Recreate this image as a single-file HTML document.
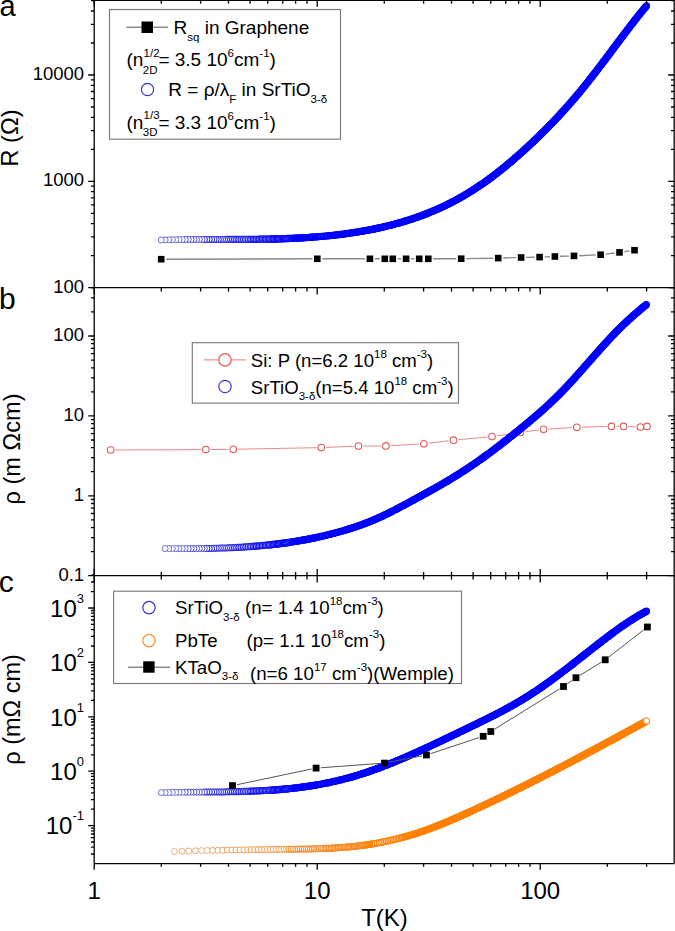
<!DOCTYPE html>
<html><head><meta charset="utf-8"><title>Resistivity vs temperature</title>
<style>html,body{margin:0;padding:0;background:#fff;overflow:hidden}svg{display:block}text{font-family:"Liberation Sans",sans-serif}</style>
</head><body>
<svg width="675" height="931" viewBox="0 0 675 931" font-family="Liberation Sans, sans-serif" fill="#000">
<g fill="none" stroke="#0000ff" stroke-width="1.2"><circle cx="646.5" cy="5.8" r="3.0"/><circle cx="646.0" cy="6.4" r="3.0"/><circle cx="645.4" cy="7.1" r="3.0"/><circle cx="644.9" cy="7.7" r="3.0"/><circle cx="644.4" cy="8.3" r="3.0"/><circle cx="643.8" cy="9.0" r="3.0"/><circle cx="643.3" cy="9.6" r="3.0"/><circle cx="642.8" cy="10.2" r="3.0"/><circle cx="642.3" cy="10.9" r="3.0"/><circle cx="641.8" cy="11.5" r="3.0"/><circle cx="641.3" cy="12.1" r="3.0"/><circle cx="640.7" cy="12.8" r="3.0"/><circle cx="640.2" cy="13.4" r="3.0"/><circle cx="639.7" cy="14.1" r="3.0"/><circle cx="639.2" cy="14.7" r="3.0"/><circle cx="638.7" cy="15.3" r="3.0"/><circle cx="638.2" cy="16.0" r="3.0"/><circle cx="637.7" cy="16.6" r="3.0"/><circle cx="637.2" cy="17.3" r="3.0"/><circle cx="636.7" cy="17.9" r="3.0"/><circle cx="636.1" cy="18.6" r="3.0"/><circle cx="635.6" cy="19.2" r="3.0"/><circle cx="635.1" cy="19.9" r="3.0"/><circle cx="634.6" cy="20.5" r="3.0"/><circle cx="634.1" cy="21.2" r="3.0"/><circle cx="633.6" cy="21.8" r="3.0"/><circle cx="633.1" cy="22.5" r="3.0"/><circle cx="632.6" cy="23.1" r="3.0"/><circle cx="632.1" cy="23.8" r="3.0"/><circle cx="631.6" cy="24.4" r="3.0"/><circle cx="631.1" cy="25.1" r="3.0"/><circle cx="630.5" cy="25.8" r="3.0"/><circle cx="630.0" cy="26.4" r="3.0"/><circle cx="629.6" cy="27.0" r="3.0"/><circle cx="629.1" cy="27.7" r="3.0"/><circle cx="628.6" cy="28.3" r="3.0"/><circle cx="628.1" cy="29.0" r="3.0"/><circle cx="627.6" cy="29.7" r="3.0"/><circle cx="627.1" cy="30.3" r="3.0"/><circle cx="626.6" cy="31.0" r="3.0"/><circle cx="626.0" cy="31.7" r="3.0"/><circle cx="625.5" cy="32.3" r="3.0"/><circle cx="625.1" cy="33.0" r="3.0"/><circle cx="624.6" cy="33.6" r="3.0"/><circle cx="624.1" cy="34.3" r="3.0"/><circle cx="623.6" cy="34.9" r="3.0"/><circle cx="623.1" cy="35.6" r="3.0"/><circle cx="622.6" cy="36.2" r="3.0"/><circle cx="622.1" cy="36.9" r="3.0"/><circle cx="621.6" cy="37.5" r="3.0"/><circle cx="621.1" cy="38.2" r="3.0"/><circle cx="620.6" cy="38.9" r="3.0"/><circle cx="620.1" cy="39.6" r="3.0"/><circle cx="619.6" cy="40.3" r="3.0"/><circle cx="619.1" cy="40.9" r="3.0"/><circle cx="618.6" cy="41.6" r="3.0"/><circle cx="618.1" cy="42.2" r="3.0"/><circle cx="617.6" cy="42.9" r="3.0"/><circle cx="617.1" cy="43.5" r="3.0"/><circle cx="616.6" cy="44.2" r="3.0"/><circle cx="616.1" cy="44.9" r="3.0"/><circle cx="615.6" cy="45.5" r="3.0"/><circle cx="615.1" cy="46.2" r="3.0"/><circle cx="614.6" cy="46.9" r="3.0"/><circle cx="614.1" cy="47.5" r="3.0"/><circle cx="613.6" cy="48.2" r="3.0"/><circle cx="613.1" cy="48.9" r="3.0"/><circle cx="612.6" cy="49.6" r="3.0"/><circle cx="612.1" cy="50.3" r="3.0"/><circle cx="611.6" cy="50.9" r="3.0"/><circle cx="611.1" cy="51.6" r="3.0"/><circle cx="610.6" cy="52.2" r="3.0"/><circle cx="610.2" cy="52.9" r="3.0"/><circle cx="609.7" cy="53.5" r="3.0"/><circle cx="609.2" cy="54.2" r="3.0"/><circle cx="608.7" cy="54.8" r="3.0"/><circle cx="608.2" cy="55.5" r="3.0"/><circle cx="607.7" cy="56.2" r="3.0"/><circle cx="607.2" cy="56.8" r="3.0"/><circle cx="606.7" cy="57.5" r="3.0"/><circle cx="606.2" cy="58.2" r="3.0"/><circle cx="605.6" cy="58.9" r="3.0"/><circle cx="605.1" cy="59.5" r="3.0"/><circle cx="604.6" cy="60.2" r="3.0"/><circle cx="604.1" cy="60.9" r="3.0"/><circle cx="603.6" cy="61.6" r="3.0"/><circle cx="603.1" cy="62.2" r="3.0"/><circle cx="602.6" cy="62.9" r="3.0"/><circle cx="602.1" cy="63.5" r="3.0"/><circle cx="601.6" cy="64.2" r="3.0"/><circle cx="601.1" cy="64.8" r="3.0"/><circle cx="600.6" cy="65.5" r="3.0"/><circle cx="600.1" cy="66.1" r="3.0"/><circle cx="599.6" cy="66.8" r="3.0"/><circle cx="599.1" cy="67.5" r="3.0"/><circle cx="598.6" cy="68.1" r="3.0"/><circle cx="598.1" cy="68.8" r="3.0"/><circle cx="597.6" cy="69.5" r="3.0"/><circle cx="597.1" cy="70.1" r="3.0"/><circle cx="596.6" cy="70.8" r="3.0"/><circle cx="596.0" cy="71.5" r="3.0"/><circle cx="595.5" cy="72.2" r="3.0"/><circle cx="595.0" cy="72.8" r="3.0"/><circle cx="594.5" cy="73.5" r="3.0"/><circle cx="593.9" cy="74.2" r="3.0"/><circle cx="593.4" cy="74.9" r="3.0"/><circle cx="592.9" cy="75.5" r="3.0"/><circle cx="592.5" cy="76.1" r="3.0"/><circle cx="592.0" cy="76.8" r="3.0"/><circle cx="591.5" cy="77.4" r="3.0"/><circle cx="590.9" cy="78.0" r="3.0"/><circle cx="590.4" cy="78.7" r="3.0"/><circle cx="589.9" cy="79.3" r="3.0"/><circle cx="589.4" cy="80.0" r="3.0"/><circle cx="588.9" cy="80.6" r="3.0"/><circle cx="588.4" cy="81.3" r="3.0"/><circle cx="587.9" cy="81.9" r="3.0"/><circle cx="587.4" cy="82.6" r="3.0"/><circle cx="586.8" cy="83.3" r="3.0"/><circle cx="586.3" cy="83.9" r="3.0"/><circle cx="585.8" cy="84.6" r="3.0"/><circle cx="585.2" cy="85.3" r="3.0"/><circle cx="584.7" cy="85.9" r="3.0"/><circle cx="584.2" cy="86.6" r="3.0"/><circle cx="583.6" cy="87.3" r="3.0"/><circle cx="583.1" cy="87.9" r="3.0"/><circle cx="582.5" cy="88.6" r="3.0"/><circle cx="582.0" cy="89.3" r="3.0"/><circle cx="581.4" cy="90.0" r="3.0"/><circle cx="580.9" cy="90.6" r="3.0"/><circle cx="580.3" cy="91.3" r="3.0"/><circle cx="579.8" cy="91.9" r="3.0"/><circle cx="579.3" cy="92.5" r="3.0"/><circle cx="578.8" cy="93.1" r="3.0"/><circle cx="578.3" cy="93.7" r="3.0"/><circle cx="577.7" cy="94.4" r="3.0"/><circle cx="577.2" cy="95.0" r="3.0"/><circle cx="576.7" cy="95.6" r="3.0"/><circle cx="576.2" cy="96.3" r="3.0"/><circle cx="575.6" cy="96.9" r="3.0"/><circle cx="575.1" cy="97.5" r="3.0"/><circle cx="574.5" cy="98.2" r="3.0"/><circle cx="574.0" cy="98.8" r="3.0"/><circle cx="573.4" cy="99.4" r="3.0"/><circle cx="572.9" cy="100.1" r="3.0"/><circle cx="572.3" cy="100.7" r="3.0"/><circle cx="571.8" cy="101.4" r="3.0"/><circle cx="571.2" cy="102.0" r="3.0"/><circle cx="570.7" cy="102.7" r="3.0"/><circle cx="570.1" cy="103.3" r="3.0"/><circle cx="569.5" cy="104.0" r="3.0"/><circle cx="568.9" cy="104.6" r="3.0"/><circle cx="568.4" cy="105.3" r="3.0"/><circle cx="567.8" cy="105.9" r="3.0"/><circle cx="567.2" cy="106.6" r="3.0"/><circle cx="566.6" cy="107.2" r="3.0"/><circle cx="566.0" cy="107.9" r="3.0"/><circle cx="565.5" cy="108.5" r="3.0"/><circle cx="565.0" cy="109.1" r="3.0"/><circle cx="564.4" cy="109.7" r="3.0"/><circle cx="563.9" cy="110.3" r="3.0"/><circle cx="563.3" cy="110.9" r="3.0"/><circle cx="562.8" cy="111.5" r="3.0"/><circle cx="562.2" cy="112.1" r="3.0"/><circle cx="561.7" cy="112.7" r="3.0"/><circle cx="561.1" cy="113.3" r="3.0"/><circle cx="560.5" cy="113.9" r="3.0"/><circle cx="560.0" cy="114.6" r="3.0"/><circle cx="559.4" cy="115.2" r="3.0"/><circle cx="558.8" cy="115.8" r="3.0"/><circle cx="558.2" cy="116.4" r="3.0"/><circle cx="557.7" cy="117.0" r="3.0"/><circle cx="557.1" cy="117.6" r="3.0"/><circle cx="556.5" cy="118.3" r="3.0"/><circle cx="555.9" cy="118.9" r="3.0"/><circle cx="555.3" cy="119.5" r="3.0"/><circle cx="554.7" cy="120.2" r="3.0"/><circle cx="554.1" cy="120.8" r="3.0"/><circle cx="553.5" cy="121.4" r="3.0"/><circle cx="552.9" cy="122.1" r="3.0"/><circle cx="552.3" cy="122.7" r="3.0"/><circle cx="551.7" cy="123.3" r="3.0"/><circle cx="551.0" cy="124.0" r="3.0"/><circle cx="550.4" cy="124.6" r="3.0"/><circle cx="549.9" cy="125.2" r="3.0"/><circle cx="549.3" cy="125.8" r="3.0"/><circle cx="548.7" cy="126.4" r="3.0"/><circle cx="548.2" cy="126.9" r="3.0"/><circle cx="547.6" cy="127.5" r="3.0"/><circle cx="547.0" cy="128.1" r="3.0"/><circle cx="546.4" cy="128.7" r="3.0"/><circle cx="545.8" cy="129.3" r="3.0"/><circle cx="545.3" cy="129.9" r="3.0"/><circle cx="544.7" cy="130.4" r="3.0"/><circle cx="544.1" cy="131.0" r="3.0"/><circle cx="543.5" cy="131.6" r="3.0"/><circle cx="542.9" cy="132.2" r="3.0"/><circle cx="542.3" cy="132.8" r="3.0"/><circle cx="541.7" cy="133.4" r="3.0"/><circle cx="541.0" cy="134.0" r="3.0"/><circle cx="540.4" cy="134.6" r="3.0"/><circle cx="539.8" cy="135.2" r="3.0"/><circle cx="539.2" cy="135.9" r="3.0"/><circle cx="538.6" cy="136.5" r="3.0"/><circle cx="537.9" cy="137.1" r="3.0"/><circle cx="537.3" cy="137.7" r="3.0"/><circle cx="536.6" cy="138.3" r="3.0"/><circle cx="536.0" cy="138.9" r="3.0"/><circle cx="535.4" cy="139.6" r="3.0"/><circle cx="534.7" cy="140.2" r="3.0"/><circle cx="534.0" cy="140.8" r="3.0"/><circle cx="533.5" cy="141.4" r="3.0"/><circle cx="532.9" cy="141.9" r="3.0"/><circle cx="532.3" cy="142.5" r="3.0"/><circle cx="531.7" cy="143.0" r="3.0"/><circle cx="531.1" cy="143.6" r="3.0"/><circle cx="530.5" cy="144.2" r="3.0"/><circle cx="529.9" cy="144.7" r="3.0"/><circle cx="529.3" cy="145.3" r="3.0"/><circle cx="528.7" cy="145.8" r="3.0"/><circle cx="528.1" cy="146.4" r="3.0"/><circle cx="527.5" cy="147.0" r="3.0"/><circle cx="526.8" cy="147.6" r="3.0"/><circle cx="526.2" cy="148.1" r="3.0"/><circle cx="525.6" cy="148.7" r="3.0"/><circle cx="525.0" cy="149.3" r="3.0"/><circle cx="524.3" cy="149.9" r="3.0"/><circle cx="523.7" cy="150.5" r="3.0"/><circle cx="523.0" cy="151.0" r="3.0"/><circle cx="522.4" cy="151.6" r="3.0"/><circle cx="521.7" cy="152.2" r="3.0"/><circle cx="521.1" cy="152.8" r="3.0"/><circle cx="520.4" cy="153.4" r="3.0"/><circle cx="519.7" cy="154.0" r="3.0"/><circle cx="519.1" cy="154.6" r="3.0"/><circle cx="518.4" cy="155.2" r="3.0"/><circle cx="517.7" cy="155.8" r="3.0"/><circle cx="517.0" cy="156.4" r="3.0"/><circle cx="516.3" cy="157.0" r="3.0"/><circle cx="515.6" cy="157.6" r="3.0"/><circle cx="514.9" cy="158.2" r="3.0"/><circle cx="514.3" cy="158.8" r="3.0"/><circle cx="513.7" cy="159.3" r="3.0"/><circle cx="513.1" cy="159.8" r="3.0"/><circle cx="512.5" cy="160.3" r="3.0"/><circle cx="511.9" cy="160.9" r="3.0"/><circle cx="511.2" cy="161.4" r="3.0"/><circle cx="510.6" cy="161.9" r="3.0"/><circle cx="510.0" cy="162.5" r="3.0"/><circle cx="509.3" cy="163.0" r="3.0"/><circle cx="508.7" cy="163.5" r="3.0"/><circle cx="508.1" cy="164.1" r="3.0"/><circle cx="507.4" cy="164.6" r="3.0"/><circle cx="506.8" cy="165.2" r="3.0"/><circle cx="506.1" cy="165.7" r="3.0"/><circle cx="505.4" cy="166.3" r="3.0"/><circle cx="504.8" cy="166.8" r="3.0"/><circle cx="504.1" cy="167.4" r="3.0"/><circle cx="503.4" cy="167.9" r="3.0"/><circle cx="502.7" cy="168.5" r="3.0"/><circle cx="502.0" cy="169.0" r="3.0"/><circle cx="501.4" cy="169.6" r="3.0"/><circle cx="500.7" cy="170.1" r="3.0"/><circle cx="500.0" cy="170.7" r="3.0"/><circle cx="499.3" cy="171.2" r="3.0"/><circle cx="498.5" cy="171.8" r="3.0"/><circle cx="497.8" cy="172.4" r="3.0"/><circle cx="497.1" cy="172.9" r="3.0"/><circle cx="496.4" cy="173.5" r="3.0"/><circle cx="495.6" cy="174.1" r="3.0"/><circle cx="494.9" cy="174.6" r="3.0"/><circle cx="494.2" cy="175.2" r="3.0"/><circle cx="493.4" cy="175.8" r="3.0"/><circle cx="492.6" cy="176.3" r="3.0"/><circle cx="491.9" cy="176.9" r="3.0"/><circle cx="491.1" cy="177.5" r="3.0"/><circle cx="490.5" cy="178.0" r="3.0"/><circle cx="489.8" cy="178.4" r="3.0"/><circle cx="489.2" cy="178.9" r="3.0"/><circle cx="488.5" cy="179.4" r="3.0"/><circle cx="487.8" cy="179.9" r="3.0"/><circle cx="487.2" cy="180.4" r="3.0"/><circle cx="486.5" cy="180.9" r="3.0"/><circle cx="485.8" cy="181.3" r="3.0"/><circle cx="485.1" cy="181.8" r="3.0"/><circle cx="484.5" cy="182.3" r="3.0"/><circle cx="483.8" cy="182.8" r="3.0"/><circle cx="483.1" cy="183.3" r="3.0"/><circle cx="482.4" cy="183.8" r="3.0"/><circle cx="481.7" cy="184.3" r="3.0"/><circle cx="481.0" cy="184.7" r="3.0"/><circle cx="480.2" cy="185.2" r="3.0"/><circle cx="479.5" cy="185.7" r="3.0"/><circle cx="478.8" cy="186.2" r="3.0"/><circle cx="478.1" cy="186.7" r="3.0"/><circle cx="477.3" cy="187.2" r="3.0"/><circle cx="476.6" cy="187.7" r="3.0"/><circle cx="475.8" cy="188.2" r="3.0"/><circle cx="475.1" cy="188.7" r="3.0"/><circle cx="474.3" cy="189.2" r="3.0"/><circle cx="473.5" cy="189.7" r="3.0"/><circle cx="472.8" cy="190.2" r="3.0"/><circle cx="472.0" cy="190.7" r="3.0"/><circle cx="471.2" cy="191.1" r="3.0"/><circle cx="470.4" cy="191.6" r="3.0"/><circle cx="469.6" cy="192.1" r="3.0"/><circle cx="468.8" cy="192.6" r="3.0"/><circle cx="468.0" cy="193.1" r="3.0"/><circle cx="467.2" cy="193.6" r="3.0"/><circle cx="466.3" cy="194.1" r="3.0"/><circle cx="465.5" cy="194.6" r="3.0"/><circle cx="464.7" cy="195.1" r="3.0"/><circle cx="463.8" cy="195.6" r="3.0"/><circle cx="463.0" cy="196.1" r="3.0"/><circle cx="462.1" cy="196.6" r="3.0"/><circle cx="461.4" cy="197.0" r="3.0"/><circle cx="460.7" cy="197.4" r="3.0"/><circle cx="460.0" cy="197.8" r="3.0"/><circle cx="459.3" cy="198.2" r="3.0"/><circle cx="458.6" cy="198.6" r="3.0"/><circle cx="457.8" cy="199.0" r="3.0"/><circle cx="457.1" cy="199.4" r="3.0"/><circle cx="456.4" cy="199.8" r="3.0"/><circle cx="455.6" cy="200.2" r="3.0"/><circle cx="454.9" cy="200.6" r="3.0"/><circle cx="454.1" cy="201.0" r="3.0"/><circle cx="453.4" cy="201.4" r="3.0"/><circle cx="452.6" cy="201.8" r="3.0"/><circle cx="451.8" cy="202.2" r="3.0"/><circle cx="451.1" cy="202.6" r="3.0"/><circle cx="450.3" cy="203.0" r="3.0"/><circle cx="449.5" cy="203.4" r="3.0"/><circle cx="448.7" cy="203.8" r="3.0"/><circle cx="447.9" cy="204.2" r="3.0"/><circle cx="447.1" cy="204.6" r="3.0"/><circle cx="446.3" cy="205.0" r="3.0"/><circle cx="445.5" cy="205.4" r="3.0"/><circle cx="444.6" cy="205.8" r="3.0"/><circle cx="443.8" cy="206.2" r="3.0"/><circle cx="443.0" cy="206.6" r="3.0"/><circle cx="442.1" cy="207.0" r="3.0"/><circle cx="441.3" cy="207.4" r="3.0"/><circle cx="440.4" cy="207.8" r="3.0"/><circle cx="439.5" cy="208.2" r="3.0"/><circle cx="438.6" cy="208.6" r="3.0"/><circle cx="437.7" cy="209.0" r="3.0"/><circle cx="436.9" cy="209.4" r="3.0"/><circle cx="435.9" cy="209.8" r="3.0"/><circle cx="435.0" cy="210.1" r="3.0"/><circle cx="434.1" cy="210.5" r="3.0"/><circle cx="433.2" cy="210.9" r="3.0"/><circle cx="432.2" cy="211.3" r="3.0"/><circle cx="431.3" cy="211.7" r="3.0"/><circle cx="430.3" cy="212.1" r="3.0"/><circle cx="429.4" cy="212.5" r="3.0"/><circle cx="428.4" cy="212.9" r="3.0"/><circle cx="427.4" cy="213.3" r="3.0"/><circle cx="426.6" cy="213.6" r="3.0"/><circle cx="425.9" cy="213.9" r="3.0"/><circle cx="425.1" cy="214.2" r="3.0"/><circle cx="424.4" cy="214.5" r="3.0"/><circle cx="423.6" cy="214.8" r="3.0"/><circle cx="422.8" cy="215.1" r="3.0"/><circle cx="422.0" cy="215.4" r="3.0"/><circle cx="421.2" cy="215.7" r="3.0"/><circle cx="420.4" cy="216.0" r="3.0"/><circle cx="419.6" cy="216.3" r="3.0"/><circle cx="418.8" cy="216.6" r="3.0"/><circle cx="418.0" cy="216.8" r="3.0"/><circle cx="417.2" cy="217.1" r="3.0"/><circle cx="416.4" cy="217.4" r="3.0"/><circle cx="415.5" cy="217.7" r="3.0"/><circle cx="414.7" cy="218.0" r="3.0"/><circle cx="413.8" cy="218.3" r="3.0"/><circle cx="413.0" cy="218.6" r="3.0"/><circle cx="412.1" cy="218.9" r="3.0"/><circle cx="411.2" cy="219.2" r="3.0"/><circle cx="410.3" cy="219.5" r="3.0"/><circle cx="409.4" cy="219.8" r="3.0"/><circle cx="408.5" cy="220.0" r="3.0"/><circle cx="407.6" cy="220.3" r="3.0"/><circle cx="406.7" cy="220.6" r="3.0"/><circle cx="405.8" cy="220.9" r="3.0"/><circle cx="404.8" cy="221.2" r="3.0"/><circle cx="403.9" cy="221.5" r="3.0"/><circle cx="403.0" cy="221.8" r="3.0"/><circle cx="402.0" cy="222.1" r="3.0"/><circle cx="401.0" cy="222.3" r="3.0"/><circle cx="400.0" cy="222.6" r="3.0"/><circle cx="399.0" cy="222.9" r="3.0"/><circle cx="398.0" cy="223.2" r="3.0"/><circle cx="397.0" cy="223.5" r="3.0"/><circle cx="396.0" cy="223.7" r="3.0"/><circle cx="395.0" cy="224.0" r="3.0"/><circle cx="393.9" cy="224.3" r="3.0"/><circle cx="392.9" cy="224.6" r="3.0"/><circle cx="391.8" cy="224.9" r="3.0"/><circle cx="390.7" cy="225.1" r="3.0"/><circle cx="389.6" cy="225.4" r="3.0"/><circle cx="388.5" cy="225.7" r="3.0"/><circle cx="387.4" cy="226.0" r="3.0"/><circle cx="386.2" cy="226.2" r="3.0"/><circle cx="385.1" cy="226.5" r="3.0"/><circle cx="383.9" cy="226.8" r="3.0"/><circle cx="383.2" cy="227.0" r="3.0"/><circle cx="382.4" cy="227.2" r="3.0"/><circle cx="381.6" cy="227.3" r="3.0"/><circle cx="380.8" cy="227.5" r="3.0"/><circle cx="380.0" cy="227.7" r="3.0"/><circle cx="379.2" cy="227.9" r="3.0"/><circle cx="378.3" cy="228.1" r="3.0"/><circle cx="377.5" cy="228.2" r="3.0"/><circle cx="376.7" cy="228.4" r="3.0"/><circle cx="375.8" cy="228.6" r="3.0"/><circle cx="375.0" cy="228.8" r="3.0"/><circle cx="374.1" cy="228.9" r="3.0"/><circle cx="373.3" cy="229.1" r="3.0"/><circle cx="372.4" cy="229.3" r="3.0"/><circle cx="371.5" cy="229.5" r="3.0"/><circle cx="370.6" cy="229.6" r="3.0"/><circle cx="369.7" cy="229.8" r="3.0"/><circle cx="368.8" cy="230.0" r="3.0"/><circle cx="367.9" cy="230.2" r="3.0"/><circle cx="367.0" cy="230.3" r="3.0"/><circle cx="366.1" cy="230.5" r="3.0"/><circle cx="365.1" cy="230.7" r="3.0"/><circle cx="364.2" cy="230.8" r="3.0"/><circle cx="363.2" cy="231.0" r="3.0"/><circle cx="362.2" cy="231.2" r="3.0"/><circle cx="361.3" cy="231.4" r="3.0"/><circle cx="360.3" cy="231.5" r="3.0"/><circle cx="359.3" cy="231.7" r="3.0"/><circle cx="358.3" cy="231.9" r="3.0"/><circle cx="357.2" cy="232.0" r="3.0"/><circle cx="356.2" cy="232.2" r="3.0"/><circle cx="355.2" cy="232.4" r="3.0"/><circle cx="354.1" cy="232.5" r="3.0"/><circle cx="353.1" cy="232.7" r="3.0"/><circle cx="352.0" cy="232.8" r="3.0"/><circle cx="350.9" cy="233.0" r="3.0"/><circle cx="349.8" cy="233.2" r="3.0"/><circle cx="348.7" cy="233.3" r="3.0"/><circle cx="347.5" cy="233.5" r="3.0"/><circle cx="346.4" cy="233.6" r="3.0"/><circle cx="345.3" cy="233.8" r="3.0"/><circle cx="344.1" cy="234.0" r="3.0"/><circle cx="342.9" cy="234.1" r="3.0"/><circle cx="341.7" cy="234.3" r="3.0"/><circle cx="340.5" cy="234.4" r="3.0"/><circle cx="339.3" cy="234.6" r="3.0"/><circle cx="338.0" cy="234.7" r="3.0"/><circle cx="336.8" cy="234.9" r="3.0"/><circle cx="335.5" cy="235.0" r="3.0"/><circle cx="334.2" cy="235.2" r="3.0"/><circle cx="332.9" cy="235.3" r="3.0"/><circle cx="331.6" cy="235.5" r="3.0"/><circle cx="330.2" cy="235.6" r="3.0"/><circle cx="328.9" cy="235.7" r="3.0"/><circle cx="327.5" cy="235.9" r="3.0"/><circle cx="326.1" cy="236.0" r="3.0"/><circle cx="324.7" cy="236.2" r="3.0"/><circle cx="323.2" cy="236.3" r="3.0"/><circle cx="321.7" cy="236.4" r="3.0"/><circle cx="320.3" cy="236.5" r="3.0"/><circle cx="318.7" cy="236.7" r="3.0"/><circle cx="317.2" cy="236.8" r="3.0"/><circle cx="315.6" cy="236.9" r="3.0"/><circle cx="314.1" cy="237.0" r="3.0"/><circle cx="313.2" cy="237.1" r="3.0"/><circle cx="312.4" cy="237.2" r="3.0"/><circle cx="311.6" cy="237.2" r="3.0"/><circle cx="310.8" cy="237.3" r="3.0"/><circle cx="310.0" cy="237.3" r="3.0"/><circle cx="309.1" cy="237.4" r="3.0"/><circle cx="308.3" cy="237.5" r="3.0"/><circle cx="307.4" cy="237.5" r="3.0"/><circle cx="306.6" cy="237.6" r="3.0"/><circle cx="305.7" cy="237.6" r="3.0"/><circle cx="304.8" cy="237.7" r="3.0"/><circle cx="303.9" cy="237.7" r="3.0"/><circle cx="303.0" cy="237.8" r="3.0"/><circle cx="302.1" cy="237.8" r="3.0"/><circle cx="301.2" cy="237.9" r="3.0"/><circle cx="300.3" cy="237.9" r="3.0"/><circle cx="299.4" cy="238.0" r="3.0"/><circle cx="298.5" cy="238.0" r="3.0"/><circle cx="297.5" cy="238.1" r="3.0"/><circle cx="296.6" cy="238.1" r="3.0"/><circle cx="295.6" cy="238.2" r="3.0"/><circle cx="294.6" cy="238.2" r="3.0"/><circle cx="293.6" cy="238.3" r="3.0"/><circle cx="292.6" cy="238.3" r="3.0"/><circle cx="291.6" cy="238.4" r="3.0"/><circle cx="290.6" cy="238.4" r="3.0"/><circle cx="289.6" cy="238.5" r="3.0"/></g><g fill="#fff" stroke="#0808fa" stroke-width="1.26"><circle cx="288.6" cy="238.5" r="3.0"/><circle cx="287.5" cy="238.5" r="3.0"/><circle cx="286.5" cy="238.6" r="3.0"/><circle cx="285.4" cy="238.6" r="3.0"/><circle cx="284.3" cy="238.7" r="3.0"/><circle cx="283.2" cy="238.7" r="3.0"/><circle cx="282.1" cy="238.7" r="3.0"/><circle cx="281.0" cy="238.8" r="3.0"/><circle cx="279.8" cy="238.8" r="3.0"/><circle cx="278.7" cy="238.8" r="3.0"/><circle cx="277.5" cy="238.9" r="3.0"/><circle cx="276.4" cy="238.9" r="3.0"/><circle cx="275.2" cy="238.9" r="3.0"/><circle cx="274.0" cy="239.0" r="3.0"/><circle cx="272.8" cy="239.0" r="3.0"/><circle cx="271.5" cy="239.0" r="3.0"/><circle cx="270.3" cy="239.1" r="3.0"/><circle cx="269.0" cy="239.1" r="3.0"/></g><g fill="#fff" stroke="#1616ef" stroke-width="1.18"><circle cx="267.7" cy="239.1" r="3.0"/><circle cx="266.4" cy="239.1" r="3.0"/><circle cx="265.1" cy="239.2" r="3.0"/><circle cx="263.8" cy="239.2" r="3.0"/><circle cx="262.4" cy="239.2" r="3.0"/><circle cx="261.0" cy="239.2" r="3.0"/><circle cx="259.7" cy="239.2" r="3.0"/><circle cx="258.2" cy="239.3" r="3.0"/><circle cx="256.8" cy="239.3" r="3.0"/><circle cx="255.3" cy="239.3" r="3.0"/><circle cx="253.9" cy="239.3" r="3.0"/><circle cx="252.4" cy="239.3" r="3.0"/><circle cx="250.8" cy="239.3" r="3.0"/><circle cx="249.3" cy="239.3" r="3.0"/><circle cx="247.7" cy="239.4" r="3.0"/></g><g fill="#fff" stroke="#2626e5" stroke-width="1.09"><circle cx="246.1" cy="239.4" r="3.0"/><circle cx="244.5" cy="239.4" r="3.0"/><circle cx="242.8" cy="239.4" r="3.0"/><circle cx="241.1" cy="239.4" r="3.0"/><circle cx="239.4" cy="239.4" r="3.0"/><circle cx="237.7" cy="239.4" r="3.0"/><circle cx="235.9" cy="239.4" r="3.0"/><circle cx="234.1" cy="239.4" r="3.0"/><circle cx="232.3" cy="239.4" r="3.0"/><circle cx="230.4" cy="239.4" r="3.0"/><circle cx="228.5" cy="239.4" r="3.0"/><circle cx="226.5" cy="239.4" r="3.0"/></g><g fill="#fff" stroke="#3434da" stroke-width="1.01"><circle cx="224.5" cy="239.4" r="3.0"/><circle cx="222.5" cy="239.4" r="3.0"/><circle cx="220.4" cy="239.4" r="3.0"/><circle cx="218.3" cy="239.4" r="3.0"/><circle cx="216.1" cy="239.4" r="3.0"/><circle cx="213.9" cy="239.4" r="3.0"/><circle cx="211.6" cy="239.4" r="3.0"/><circle cx="209.2" cy="239.4" r="3.0"/><circle cx="206.8" cy="239.4" r="3.0"/><circle cx="204.4" cy="239.4" r="3.0"/></g><g fill="#fff" stroke="#4444d0" stroke-width="0.93"><circle cx="201.9" cy="239.4" r="3.0"/><circle cx="199.3" cy="239.4" r="3.0"/><circle cx="196.6" cy="239.5" r="3.0"/><circle cx="193.9" cy="239.5" r="3.0"/><circle cx="191.1" cy="239.5" r="3.0"/><circle cx="188.2" cy="239.5" r="3.0"/><circle cx="185.2" cy="239.5" r="3.0"/></g><g fill="#fff" stroke="#5252c5" stroke-width="0.84"><circle cx="182.2" cy="239.6" r="3.0"/><circle cx="179.0" cy="239.6" r="3.0"/><circle cx="175.7" cy="239.7" r="3.0"/><circle cx="172.3" cy="239.7" r="3.0"/><circle cx="168.8" cy="239.8" r="3.0"/><circle cx="165.1" cy="239.9" r="3.0"/><circle cx="161.3" cy="240.0" r="3.0"/></g>
<path d="M166.2 259.2L312.3 258.8M322.3 258.8L364.9 258.8M374.9 258.8L379.8 258.8M397.8 258.8L401.1 258.8M411.1 258.8L414.2 258.8M433.3 258.8L456.2 258.7M466.2 258.6L493.2 258.2M503.2 258.0L516.1 257.6M526.1 257.4L534.6 257.2M544.6 256.9L549.9 256.7M559.9 256.3L569.0 256.1M579.0 255.7L595.6 254.9M605.6 254.1L614.5 253.0M624.4 251.7L629.6 250.9" fill="none" stroke="#8a8a8a" stroke-width="1.4"/>
<g fill="#000"><rect x="157.9" y="255.9" width="6.6" height="6.6"/><rect x="314.0" y="255.5" width="6.6" height="6.6"/><rect x="366.6" y="255.5" width="6.6" height="6.6"/><rect x="381.5" y="255.5" width="6.6" height="6.6"/><rect x="389.5" y="255.5" width="6.6" height="6.6"/><rect x="402.8" y="255.5" width="6.6" height="6.6"/><rect x="415.9" y="255.5" width="6.6" height="6.6"/><rect x="425.0" y="255.5" width="6.6" height="6.6"/><rect x="457.9" y="255.4" width="6.6" height="6.6"/><rect x="494.9" y="254.8" width="6.6" height="6.6"/><rect x="517.8" y="254.2" width="6.6" height="6.6"/><rect x="536.3" y="253.8" width="6.6" height="6.6"/><rect x="551.6" y="253.2" width="6.6" height="6.6"/><rect x="570.7" y="252.6" width="6.6" height="6.6"/><rect x="597.3" y="251.4" width="6.6" height="6.6"/><rect x="616.2" y="249.1" width="6.6" height="6.6"/><rect x="631.2" y="246.9" width="6.6" height="6.6"/></g>
<path d="M115.5 450.0L201.0 449.6M210.6 449.5L228.5 449.4M238.1 449.2L316.5 447.7M326.1 447.4L353.6 446.3M363.2 446.1L381.1 445.9M390.7 445.6L419.1 444.1M428.7 443.2L448.7 440.8M458.3 439.7L487.2 437.0M496.8 435.8L515.6 433.1M525.2 431.8L538.8 429.9M548.4 429.0L572.0 427.6M581.6 427.2L606.7 426.5M616.3 426.4L618.8 426.4M628.4 426.6L635.6 426.8" fill="none" stroke="#e88" stroke-width="1"/>
<g fill="#fff" stroke="#e05a5a" stroke-width="1.1"><circle cx="110.7" cy="450" r="3.3"/><circle cx="205.8" cy="449.6" r="3.3"/><circle cx="233.3" cy="449.3" r="3.3"/><circle cx="321.3" cy="447.6" r="3.3"/><circle cx="358.4" cy="446.1" r="3.3"/><circle cx="385.9" cy="445.9" r="3.3"/><circle cx="423.9" cy="443.8" r="3.3"/><circle cx="453.5" cy="440.2" r="3.3"/><circle cx="492" cy="436.5" r="3.3"/><circle cx="520.4" cy="432.4" r="3.3"/><circle cx="543.6" cy="429.3" r="3.3"/><circle cx="576.8" cy="427.3" r="3.3"/><circle cx="611.5" cy="426.4" r="3.3"/><circle cx="623.6" cy="426.4" r="3.3"/><circle cx="640.4" cy="427" r="3.3"/><circle cx="647" cy="426.4" r="3.3"/></g>
<g fill="none" stroke="#0000ff" stroke-width="1.2"><circle cx="646.4" cy="304.6" r="3.0"/><circle cx="645.7" cy="305.1" r="3.0"/><circle cx="645.1" cy="305.6" r="3.0"/><circle cx="644.5" cy="306.1" r="3.0"/><circle cx="643.8" cy="306.7" r="3.0"/><circle cx="643.2" cy="307.2" r="3.0"/><circle cx="642.6" cy="307.7" r="3.0"/><circle cx="641.9" cy="308.2" r="3.0"/><circle cx="641.3" cy="308.7" r="3.0"/><circle cx="640.7" cy="309.3" r="3.0"/><circle cx="640.1" cy="309.8" r="3.0"/><circle cx="639.4" cy="310.3" r="3.0"/><circle cx="638.8" cy="310.9" r="3.0"/><circle cx="638.2" cy="311.4" r="3.0"/><circle cx="637.6" cy="311.9" r="3.0"/><circle cx="636.9" cy="312.5" r="3.0"/><circle cx="636.3" cy="313.0" r="3.0"/><circle cx="635.7" cy="313.5" r="3.0"/><circle cx="635.1" cy="314.1" r="3.0"/><circle cx="634.5" cy="314.6" r="3.0"/><circle cx="633.9" cy="315.1" r="3.0"/><circle cx="633.2" cy="315.7" r="3.0"/><circle cx="632.6" cy="316.2" r="3.0"/><circle cx="632.0" cy="316.8" r="3.0"/><circle cx="631.4" cy="317.3" r="3.0"/><circle cx="630.8" cy="317.9" r="3.0"/><circle cx="630.2" cy="318.4" r="3.0"/><circle cx="629.6" cy="319.0" r="3.0"/><circle cx="629.0" cy="319.5" r="3.0"/><circle cx="628.4" cy="320.1" r="3.0"/><circle cx="627.8" cy="320.6" r="3.0"/><circle cx="627.2" cy="321.2" r="3.0"/><circle cx="626.6" cy="321.7" r="3.0"/><circle cx="626.0" cy="322.3" r="3.0"/><circle cx="625.4" cy="322.9" r="3.0"/><circle cx="624.8" cy="323.4" r="3.0"/><circle cx="624.2" cy="324.0" r="3.0"/><circle cx="623.6" cy="324.6" r="3.0"/><circle cx="623.0" cy="325.1" r="3.0"/><circle cx="622.4" cy="325.7" r="3.0"/><circle cx="621.8" cy="326.3" r="3.0"/><circle cx="621.2" cy="326.9" r="3.0"/><circle cx="620.6" cy="327.4" r="3.0"/><circle cx="620.1" cy="328.0" r="3.0"/><circle cx="619.5" cy="328.6" r="3.0"/><circle cx="618.9" cy="329.2" r="3.0"/><circle cx="618.3" cy="329.7" r="3.0"/><circle cx="617.7" cy="330.3" r="3.0"/><circle cx="617.1" cy="330.9" r="3.0"/><circle cx="616.6" cy="331.5" r="3.0"/><circle cx="616.0" cy="332.1" r="3.0"/><circle cx="615.4" cy="332.7" r="3.0"/><circle cx="614.9" cy="333.3" r="3.0"/><circle cx="614.3" cy="333.9" r="3.0"/><circle cx="613.7" cy="334.5" r="3.0"/><circle cx="613.1" cy="335.1" r="3.0"/><circle cx="612.5" cy="335.7" r="3.0"/><circle cx="612.0" cy="336.3" r="3.0"/><circle cx="611.4" cy="336.8" r="3.0"/><circle cx="610.9" cy="337.4" r="3.0"/><circle cx="610.3" cy="338.0" r="3.0"/><circle cx="609.7" cy="338.6" r="3.0"/><circle cx="609.2" cy="339.2" r="3.0"/><circle cx="608.6" cy="339.9" r="3.0"/><circle cx="608.0" cy="340.5" r="3.0"/><circle cx="607.4" cy="341.1" r="3.0"/><circle cx="606.9" cy="341.7" r="3.0"/><circle cx="606.4" cy="342.3" r="3.0"/><circle cx="605.8" cy="342.9" r="3.0"/><circle cx="605.3" cy="343.5" r="3.0"/><circle cx="604.7" cy="344.1" r="3.0"/><circle cx="604.1" cy="344.7" r="3.0"/><circle cx="603.6" cy="345.3" r="3.0"/><circle cx="603.0" cy="346.0" r="3.0"/><circle cx="602.4" cy="346.6" r="3.0"/><circle cx="601.9" cy="347.2" r="3.0"/><circle cx="601.3" cy="347.9" r="3.0"/><circle cx="600.8" cy="348.5" r="3.0"/><circle cx="600.2" cy="349.1" r="3.0"/><circle cx="599.7" cy="349.7" r="3.0"/><circle cx="599.1" cy="350.3" r="3.0"/><circle cx="598.6" cy="350.9" r="3.0"/><circle cx="598.0" cy="351.5" r="3.0"/><circle cx="597.5" cy="352.2" r="3.0"/><circle cx="596.9" cy="352.8" r="3.0"/><circle cx="596.3" cy="353.4" r="3.0"/><circle cx="595.8" cy="354.1" r="3.0"/><circle cx="595.2" cy="354.7" r="3.0"/><circle cx="594.6" cy="355.4" r="3.0"/><circle cx="594.1" cy="356.0" r="3.0"/><circle cx="593.6" cy="356.6" r="3.0"/><circle cx="593.0" cy="357.2" r="3.0"/><circle cx="592.5" cy="357.8" r="3.0"/><circle cx="592.0" cy="358.4" r="3.0"/><circle cx="591.4" cy="359.0" r="3.0"/><circle cx="590.9" cy="359.7" r="3.0"/><circle cx="590.3" cy="360.3" r="3.0"/><circle cx="589.7" cy="360.9" r="3.0"/><circle cx="589.2" cy="361.6" r="3.0"/><circle cx="588.6" cy="362.2" r="3.0"/><circle cx="588.1" cy="362.8" r="3.0"/><circle cx="587.5" cy="363.5" r="3.0"/><circle cx="586.9" cy="364.1" r="3.0"/><circle cx="586.3" cy="364.8" r="3.0"/><circle cx="585.8" cy="365.4" r="3.0"/><circle cx="585.3" cy="366.0" r="3.0"/><circle cx="584.7" cy="366.6" r="3.0"/><circle cx="584.2" cy="367.2" r="3.0"/><circle cx="583.7" cy="367.8" r="3.0"/><circle cx="583.1" cy="368.5" r="3.0"/><circle cx="582.6" cy="369.1" r="3.0"/><circle cx="582.0" cy="369.7" r="3.0"/><circle cx="581.5" cy="370.3" r="3.0"/><circle cx="580.9" cy="371.0" r="3.0"/><circle cx="580.3" cy="371.6" r="3.0"/><circle cx="579.8" cy="372.2" r="3.0"/><circle cx="579.2" cy="372.9" r="3.0"/><circle cx="578.6" cy="373.5" r="3.0"/><circle cx="578.1" cy="374.2" r="3.0"/><circle cx="577.5" cy="374.8" r="3.0"/><circle cx="576.9" cy="375.5" r="3.0"/><circle cx="576.3" cy="376.1" r="3.0"/><circle cx="575.8" cy="376.7" r="3.0"/><circle cx="575.2" cy="377.3" r="3.0"/><circle cx="574.7" cy="377.9" r="3.0"/><circle cx="574.2" cy="378.5" r="3.0"/><circle cx="573.6" cy="379.1" r="3.0"/><circle cx="573.1" cy="379.7" r="3.0"/><circle cx="572.5" cy="380.3" r="3.0"/><circle cx="572.0" cy="380.9" r="3.0"/><circle cx="571.4" cy="381.6" r="3.0"/><circle cx="570.8" cy="382.2" r="3.0"/><circle cx="570.3" cy="382.8" r="3.0"/><circle cx="569.7" cy="383.4" r="3.0"/><circle cx="569.1" cy="384.0" r="3.0"/><circle cx="568.5" cy="384.6" r="3.0"/><circle cx="568.0" cy="385.3" r="3.0"/><circle cx="567.4" cy="385.9" r="3.0"/><circle cx="566.8" cy="386.5" r="3.0"/><circle cx="566.2" cy="387.1" r="3.0"/><circle cx="565.6" cy="387.8" r="3.0"/><circle cx="565.0" cy="388.4" r="3.0"/><circle cx="564.4" cy="389.0" r="3.0"/><circle cx="563.8" cy="389.7" r="3.0"/><circle cx="563.2" cy="390.3" r="3.0"/><circle cx="562.6" cy="390.9" r="3.0"/><circle cx="562.0" cy="391.6" r="3.0"/><circle cx="561.4" cy="392.1" r="3.0"/><circle cx="560.8" cy="392.7" r="3.0"/><circle cx="560.3" cy="393.3" r="3.0"/><circle cx="559.7" cy="393.9" r="3.0"/><circle cx="559.1" cy="394.4" r="3.0"/><circle cx="558.6" cy="395.0" r="3.0"/><circle cx="558.0" cy="395.6" r="3.0"/><circle cx="557.4" cy="396.2" r="3.0"/><circle cx="556.8" cy="396.7" r="3.0"/><circle cx="556.2" cy="397.3" r="3.0"/><circle cx="555.6" cy="397.9" r="3.0"/><circle cx="555.0" cy="398.5" r="3.0"/><circle cx="554.4" cy="399.1" r="3.0"/><circle cx="553.8" cy="399.7" r="3.0"/><circle cx="553.2" cy="400.2" r="3.0"/><circle cx="552.6" cy="400.8" r="3.0"/><circle cx="552.0" cy="401.4" r="3.0"/><circle cx="551.4" cy="402.0" r="3.0"/><circle cx="550.8" cy="402.6" r="3.0"/><circle cx="550.1" cy="403.2" r="3.0"/><circle cx="549.5" cy="403.8" r="3.0"/><circle cx="548.9" cy="404.4" r="3.0"/><circle cx="548.2" cy="405.0" r="3.0"/><circle cx="547.6" cy="405.5" r="3.0"/><circle cx="546.9" cy="406.1" r="3.0"/><circle cx="546.3" cy="406.7" r="3.0"/><circle cx="545.6" cy="407.3" r="3.0"/><circle cx="545.0" cy="407.9" r="3.0"/><circle cx="544.3" cy="408.5" r="3.0"/><circle cx="543.7" cy="409.1" r="3.0"/><circle cx="543.1" cy="409.6" r="3.0"/><circle cx="542.5" cy="410.1" r="3.0"/><circle cx="541.9" cy="410.7" r="3.0"/><circle cx="541.3" cy="411.2" r="3.0"/><circle cx="540.7" cy="411.8" r="3.0"/><circle cx="540.0" cy="412.3" r="3.0"/><circle cx="539.4" cy="412.9" r="3.0"/><circle cx="538.8" cy="413.4" r="3.0"/><circle cx="538.2" cy="413.9" r="3.0"/><circle cx="537.5" cy="414.5" r="3.0"/><circle cx="536.9" cy="415.0" r="3.0"/><circle cx="536.2" cy="415.6" r="3.0"/><circle cx="535.6" cy="416.2" r="3.0"/><circle cx="534.9" cy="416.7" r="3.0"/><circle cx="534.3" cy="417.3" r="3.0"/><circle cx="533.6" cy="417.8" r="3.0"/><circle cx="533.0" cy="418.4" r="3.0"/><circle cx="532.3" cy="419.0" r="3.0"/><circle cx="531.6" cy="419.5" r="3.0"/><circle cx="530.9" cy="420.1" r="3.0"/><circle cx="530.3" cy="420.7" r="3.0"/><circle cx="529.6" cy="421.3" r="3.0"/><circle cx="528.9" cy="421.8" r="3.0"/><circle cx="528.2" cy="422.4" r="3.0"/><circle cx="527.6" cy="422.9" r="3.0"/><circle cx="526.9" cy="423.4" r="3.0"/><circle cx="526.3" cy="424.0" r="3.0"/><circle cx="525.7" cy="424.5" r="3.0"/><circle cx="525.1" cy="425.0" r="3.0"/><circle cx="524.4" cy="425.5" r="3.0"/><circle cx="523.8" cy="426.1" r="3.0"/><circle cx="523.1" cy="426.6" r="3.0"/><circle cx="522.5" cy="427.1" r="3.0"/><circle cx="521.8" cy="427.7" r="3.0"/><circle cx="521.2" cy="428.2" r="3.0"/><circle cx="520.5" cy="428.7" r="3.0"/><circle cx="519.8" cy="429.3" r="3.0"/><circle cx="519.2" cy="429.8" r="3.0"/><circle cx="518.5" cy="430.4" r="3.0"/><circle cx="517.8" cy="430.9" r="3.0"/><circle cx="517.1" cy="431.5" r="3.0"/><circle cx="516.4" cy="432.0" r="3.0"/><circle cx="515.7" cy="432.6" r="3.0"/><circle cx="515.0" cy="433.2" r="3.0"/><circle cx="514.3" cy="433.7" r="3.0"/><circle cx="513.6" cy="434.3" r="3.0"/><circle cx="512.9" cy="434.9" r="3.0"/><circle cx="512.2" cy="435.5" r="3.0"/><circle cx="511.5" cy="436.0" r="3.0"/><circle cx="510.8" cy="436.5" r="3.0"/><circle cx="510.2" cy="437.0" r="3.0"/><circle cx="509.6" cy="437.5" r="3.0"/><circle cx="508.9" cy="438.0" r="3.0"/><circle cx="508.3" cy="438.6" r="3.0"/><circle cx="507.6" cy="439.1" r="3.0"/><circle cx="507.0" cy="439.6" r="3.0"/><circle cx="506.3" cy="440.1" r="3.0"/><circle cx="505.7" cy="440.6" r="3.0"/><circle cx="505.0" cy="441.1" r="3.0"/><circle cx="504.3" cy="441.7" r="3.0"/><circle cx="503.6" cy="442.2" r="3.0"/><circle cx="503.0" cy="442.7" r="3.0"/><circle cx="502.3" cy="443.3" r="3.0"/><circle cx="501.6" cy="443.8" r="3.0"/><circle cx="500.9" cy="444.3" r="3.0"/><circle cx="500.2" cy="444.9" r="3.0"/><circle cx="499.5" cy="445.4" r="3.0"/><circle cx="498.8" cy="446.0" r="3.0"/><circle cx="498.1" cy="446.5" r="3.0"/><circle cx="497.3" cy="447.1" r="3.0"/><circle cx="496.6" cy="447.6" r="3.0"/><circle cx="495.9" cy="448.2" r="3.0"/><circle cx="495.1" cy="448.7" r="3.0"/><circle cx="494.4" cy="449.3" r="3.0"/><circle cx="493.7" cy="449.8" r="3.0"/><circle cx="492.9" cy="450.4" r="3.0"/><circle cx="492.1" cy="451.0" r="3.0"/><circle cx="491.4" cy="451.6" r="3.0"/><circle cx="490.7" cy="452.0" r="3.0"/><circle cx="490.1" cy="452.5" r="3.0"/><circle cx="489.4" cy="453.0" r="3.0"/><circle cx="488.8" cy="453.5" r="3.0"/><circle cx="488.1" cy="454.0" r="3.0"/><circle cx="487.4" cy="454.5" r="3.0"/><circle cx="486.8" cy="454.9" r="3.0"/><circle cx="486.1" cy="455.4" r="3.0"/><circle cx="485.4" cy="455.9" r="3.0"/><circle cx="484.7" cy="456.4" r="3.0"/><circle cx="484.0" cy="456.9" r="3.0"/><circle cx="483.4" cy="457.4" r="3.0"/><circle cx="482.7" cy="457.9" r="3.0"/><circle cx="481.9" cy="458.4" r="3.0"/><circle cx="481.2" cy="458.9" r="3.0"/><circle cx="480.5" cy="459.4" r="3.0"/><circle cx="479.8" cy="460.0" r="3.0"/><circle cx="479.1" cy="460.5" r="3.0"/><circle cx="478.3" cy="461.0" r="3.0"/><circle cx="477.6" cy="461.5" r="3.0"/><circle cx="476.9" cy="462.0" r="3.0"/><circle cx="476.1" cy="462.5" r="3.0"/><circle cx="475.4" cy="463.1" r="3.0"/><circle cx="474.6" cy="463.6" r="3.0"/><circle cx="473.8" cy="464.1" r="3.0"/><circle cx="473.1" cy="464.6" r="3.0"/><circle cx="472.3" cy="465.2" r="3.0"/><circle cx="471.5" cy="465.7" r="3.0"/><circle cx="470.7" cy="466.2" r="3.0"/><circle cx="469.9" cy="466.8" r="3.0"/><circle cx="469.1" cy="467.3" r="3.0"/><circle cx="468.3" cy="467.8" r="3.0"/><circle cx="467.5" cy="468.4" r="3.0"/><circle cx="466.7" cy="468.9" r="3.0"/><circle cx="465.8" cy="469.5" r="3.0"/><circle cx="465.2" cy="469.9" r="3.0"/><circle cx="464.5" cy="470.3" r="3.0"/><circle cx="463.8" cy="470.8" r="3.0"/><circle cx="463.1" cy="471.2" r="3.0"/><circle cx="462.4" cy="471.7" r="3.0"/><circle cx="461.7" cy="472.1" r="3.0"/><circle cx="461.0" cy="472.6" r="3.0"/><circle cx="460.3" cy="473.0" r="3.0"/><circle cx="459.6" cy="473.5" r="3.0"/><circle cx="458.9" cy="473.9" r="3.0"/><circle cx="458.2" cy="474.4" r="3.0"/><circle cx="457.5" cy="474.8" r="3.0"/><circle cx="456.7" cy="475.3" r="3.0"/><circle cx="456.0" cy="475.7" r="3.0"/><circle cx="455.3" cy="476.2" r="3.0"/><circle cx="454.5" cy="476.7" r="3.0"/><circle cx="453.8" cy="477.1" r="3.0"/><circle cx="453.0" cy="477.6" r="3.0"/><circle cx="452.2" cy="478.0" r="3.0"/><circle cx="451.5" cy="478.5" r="3.0"/><circle cx="450.7" cy="479.0" r="3.0"/><circle cx="449.9" cy="479.5" r="3.0"/><circle cx="449.1" cy="479.9" r="3.0"/><circle cx="448.3" cy="480.4" r="3.0"/><circle cx="447.5" cy="480.9" r="3.0"/><circle cx="446.7" cy="481.4" r="3.0"/><circle cx="445.9" cy="481.8" r="3.0"/><circle cx="445.1" cy="482.3" r="3.0"/><circle cx="444.2" cy="482.8" r="3.0"/><circle cx="443.4" cy="483.3" r="3.0"/><circle cx="442.5" cy="483.8" r="3.0"/><circle cx="441.7" cy="484.3" r="3.0"/><circle cx="440.8" cy="484.8" r="3.0"/><circle cx="440.0" cy="485.3" r="3.0"/><circle cx="439.1" cy="485.8" r="3.0"/><circle cx="438.2" cy="486.3" r="3.0"/><circle cx="437.3" cy="486.8" r="3.0"/><circle cx="436.4" cy="487.3" r="3.0"/><circle cx="435.5" cy="487.8" r="3.0"/><circle cx="434.6" cy="488.4" r="3.0"/><circle cx="433.6" cy="488.9" r="3.0"/><circle cx="432.9" cy="489.3" r="3.0"/><circle cx="432.2" cy="489.7" r="3.0"/><circle cx="431.5" cy="490.1" r="3.0"/><circle cx="430.8" cy="490.5" r="3.0"/><circle cx="430.1" cy="490.9" r="3.0"/><circle cx="429.4" cy="491.3" r="3.0"/><circle cx="428.6" cy="491.7" r="3.0"/><circle cx="427.9" cy="492.1" r="3.0"/><circle cx="427.1" cy="492.5" r="3.0"/><circle cx="426.4" cy="492.9" r="3.0"/><circle cx="425.6" cy="493.3" r="3.0"/><circle cx="424.9" cy="493.7" r="3.0"/><circle cx="424.1" cy="494.2" r="3.0"/><circle cx="423.3" cy="494.6" r="3.0"/><circle cx="422.6" cy="495.0" r="3.0"/><circle cx="421.8" cy="495.4" r="3.0"/><circle cx="421.0" cy="495.9" r="3.0"/><circle cx="420.2" cy="496.3" r="3.0"/><circle cx="419.4" cy="496.7" r="3.0"/><circle cx="418.6" cy="497.2" r="3.0"/><circle cx="417.7" cy="497.6" r="3.0"/><circle cx="416.9" cy="498.1" r="3.0"/><circle cx="416.1" cy="498.5" r="3.0"/><circle cx="415.2" cy="499.0" r="3.0"/><circle cx="414.4" cy="499.4" r="3.0"/><circle cx="413.5" cy="499.9" r="3.0"/><circle cx="412.7" cy="500.4" r="3.0"/><circle cx="411.8" cy="500.8" r="3.0"/><circle cx="410.9" cy="501.3" r="3.0"/><circle cx="410.0" cy="501.8" r="3.0"/><circle cx="409.1" cy="502.3" r="3.0"/><circle cx="408.2" cy="502.8" r="3.0"/><circle cx="407.3" cy="503.3" r="3.0"/><circle cx="406.4" cy="503.8" r="3.0"/><circle cx="405.5" cy="504.3" r="3.0"/><circle cx="404.5" cy="504.8" r="3.0"/><circle cx="403.6" cy="505.3" r="3.0"/><circle cx="402.6" cy="505.8" r="3.0"/><circle cx="401.7" cy="506.3" r="3.0"/><circle cx="400.7" cy="506.8" r="3.0"/><circle cx="399.7" cy="507.3" r="3.0"/><circle cx="398.7" cy="507.9" r="3.0"/><circle cx="397.7" cy="508.4" r="3.0"/><circle cx="396.7" cy="508.9" r="3.0"/><circle cx="395.7" cy="509.5" r="3.0"/><circle cx="394.6" cy="510.0" r="3.0"/><circle cx="393.6" cy="510.5" r="3.0"/><circle cx="392.5" cy="511.1" r="3.0"/><circle cx="391.8" cy="511.5" r="3.0"/><circle cx="391.1" cy="511.8" r="3.0"/><circle cx="390.3" cy="512.2" r="3.0"/><circle cx="389.6" cy="512.6" r="3.0"/><circle cx="388.9" cy="512.9" r="3.0"/><circle cx="388.1" cy="513.3" r="3.0"/><circle cx="387.4" cy="513.7" r="3.0"/><circle cx="386.6" cy="514.0" r="3.0"/><circle cx="385.9" cy="514.4" r="3.0"/><circle cx="385.1" cy="514.8" r="3.0"/><circle cx="384.3" cy="515.1" r="3.0"/><circle cx="383.6" cy="515.5" r="3.0"/><circle cx="382.8" cy="515.9" r="3.0"/><circle cx="382.0" cy="516.3" r="3.0"/><circle cx="381.2" cy="516.6" r="3.0"/><circle cx="380.4" cy="517.0" r="3.0"/><circle cx="379.6" cy="517.4" r="3.0"/><circle cx="378.7" cy="517.7" r="3.0"/><circle cx="377.9" cy="518.1" r="3.0"/><circle cx="377.1" cy="518.5" r="3.0"/><circle cx="376.3" cy="518.8" r="3.0"/><circle cx="375.4" cy="519.2" r="3.0"/><circle cx="374.6" cy="519.6" r="3.0"/><circle cx="373.7" cy="519.9" r="3.0"/><circle cx="372.8" cy="520.3" r="3.0"/><circle cx="371.9" cy="520.7" r="3.0"/><circle cx="371.1" cy="521.0" r="3.0"/><circle cx="370.2" cy="521.4" r="3.0"/><circle cx="369.3" cy="521.8" r="3.0"/><circle cx="368.4" cy="522.1" r="3.0"/><circle cx="367.4" cy="522.5" r="3.0"/><circle cx="366.5" cy="522.8" r="3.0"/><circle cx="365.6" cy="523.2" r="3.0"/><circle cx="364.6" cy="523.6" r="3.0"/><circle cx="363.7" cy="523.9" r="3.0"/><circle cx="362.7" cy="524.3" r="3.0"/><circle cx="361.7" cy="524.6" r="3.0"/><circle cx="360.8" cy="525.0" r="3.0"/><circle cx="359.8" cy="525.4" r="3.0"/><circle cx="358.8" cy="525.7" r="3.0"/><circle cx="357.8" cy="526.1" r="3.0"/><circle cx="356.7" cy="526.4" r="3.0"/><circle cx="355.7" cy="526.8" r="3.0"/><circle cx="354.6" cy="527.1" r="3.0"/><circle cx="353.6" cy="527.5" r="3.0"/><circle cx="352.5" cy="527.8" r="3.0"/><circle cx="351.4" cy="528.2" r="3.0"/><circle cx="350.3" cy="528.5" r="3.0"/><circle cx="349.2" cy="528.9" r="3.0"/><circle cx="348.1" cy="529.2" r="3.0"/><circle cx="347.0" cy="529.6" r="3.0"/><circle cx="345.8" cy="529.9" r="3.0"/><circle cx="344.7" cy="530.3" r="3.0"/><circle cx="343.5" cy="530.6" r="3.0"/><circle cx="342.3" cy="531.0" r="3.0"/><circle cx="341.1" cy="531.3" r="3.0"/><circle cx="339.9" cy="531.7" r="3.0"/><circle cx="338.7" cy="532.0" r="3.0"/><circle cx="337.4" cy="532.3" r="3.0"/><circle cx="336.1" cy="532.7" r="3.0"/><circle cx="334.9" cy="533.0" r="3.0"/><circle cx="333.6" cy="533.4" r="3.0"/><circle cx="332.2" cy="533.7" r="3.0"/><circle cx="330.9" cy="534.1" r="3.0"/><circle cx="329.5" cy="534.4" r="3.0"/><circle cx="328.2" cy="534.7" r="3.0"/><circle cx="326.8" cy="535.1" r="3.0"/><circle cx="325.4" cy="535.4" r="3.0"/><circle cx="323.9" cy="535.8" r="3.0"/><circle cx="322.5" cy="536.1" r="3.0"/><circle cx="321.0" cy="536.4" r="3.0"/><circle cx="319.5" cy="536.8" r="3.0"/><circle cx="318.0" cy="537.1" r="3.0"/><circle cx="316.4" cy="537.4" r="3.0"/><circle cx="315.6" cy="537.6" r="3.0"/><circle cx="314.8" cy="537.8" r="3.0"/><circle cx="314.1" cy="537.9" r="3.0"/><circle cx="313.2" cy="538.1" r="3.0"/><circle cx="312.4" cy="538.3" r="3.0"/><circle cx="311.6" cy="538.4" r="3.0"/><circle cx="310.8" cy="538.6" r="3.0"/><circle cx="310.0" cy="538.8" r="3.0"/><circle cx="309.1" cy="538.9" r="3.0"/><circle cx="308.3" cy="539.1" r="3.0"/><circle cx="307.4" cy="539.3" r="3.0"/><circle cx="306.6" cy="539.4" r="3.0"/><circle cx="305.7" cy="539.6" r="3.0"/><circle cx="304.8" cy="539.8" r="3.0"/><circle cx="303.9" cy="539.9" r="3.0"/><circle cx="303.0" cy="540.1" r="3.0"/><circle cx="302.1" cy="540.2" r="3.0"/><circle cx="301.2" cy="540.4" r="3.0"/><circle cx="300.3" cy="540.6" r="3.0"/><circle cx="299.4" cy="540.7" r="3.0"/><circle cx="298.5" cy="540.9" r="3.0"/><circle cx="297.5" cy="541.0" r="3.0"/><circle cx="296.6" cy="541.2" r="3.0"/><circle cx="295.6" cy="541.4" r="3.0"/><circle cx="294.6" cy="541.5" r="3.0"/><circle cx="293.6" cy="541.7" r="3.0"/><circle cx="292.6" cy="541.8" r="3.0"/><circle cx="291.6" cy="542.0" r="3.0"/><circle cx="290.6" cy="542.1" r="3.0"/><circle cx="289.6" cy="542.3" r="3.0"/></g><g fill="#fff" stroke="#0808fa" stroke-width="1.26"><circle cx="288.6" cy="542.5" r="3.0"/><circle cx="287.5" cy="542.6" r="3.0"/><circle cx="286.5" cy="542.8" r="3.0"/><circle cx="285.4" cy="542.9" r="3.0"/><circle cx="284.3" cy="543.1" r="3.0"/><circle cx="283.2" cy="543.2" r="3.0"/><circle cx="282.1" cy="543.4" r="3.0"/><circle cx="281.0" cy="543.5" r="3.0"/><circle cx="279.8" cy="543.6" r="3.0"/><circle cx="278.7" cy="543.8" r="3.0"/><circle cx="277.5" cy="543.9" r="3.0"/><circle cx="276.4" cy="544.1" r="3.0"/><circle cx="275.2" cy="544.2" r="3.0"/><circle cx="274.0" cy="544.4" r="3.0"/><circle cx="272.8" cy="544.5" r="3.0"/><circle cx="271.5" cy="544.6" r="3.0"/><circle cx="270.3" cy="544.8" r="3.0"/><circle cx="269.0" cy="544.9" r="3.0"/></g><g fill="#fff" stroke="#1616ef" stroke-width="1.18"><circle cx="267.7" cy="545.1" r="3.0"/><circle cx="266.4" cy="545.2" r="3.0"/><circle cx="265.1" cy="545.3" r="3.0"/><circle cx="263.8" cy="545.4" r="3.0"/><circle cx="262.4" cy="545.6" r="3.0"/><circle cx="261.0" cy="545.7" r="3.0"/><circle cx="259.7" cy="545.8" r="3.0"/><circle cx="258.2" cy="546.0" r="3.0"/><circle cx="256.8" cy="546.1" r="3.0"/><circle cx="255.3" cy="546.2" r="3.0"/><circle cx="253.9" cy="546.3" r="3.0"/><circle cx="252.4" cy="546.4" r="3.0"/><circle cx="250.8" cy="546.6" r="3.0"/><circle cx="249.3" cy="546.7" r="3.0"/></g><g fill="#fff" stroke="#2626e5" stroke-width="1.09"><circle cx="247.7" cy="546.8" r="3.0"/><circle cx="246.1" cy="546.9" r="3.0"/><circle cx="244.5" cy="547.0" r="3.0"/><circle cx="242.8" cy="547.1" r="3.0"/><circle cx="241.1" cy="547.2" r="3.0"/><circle cx="239.4" cy="547.3" r="3.0"/><circle cx="237.7" cy="547.4" r="3.0"/><circle cx="235.9" cy="547.5" r="3.0"/><circle cx="234.1" cy="547.6" r="3.0"/><circle cx="232.3" cy="547.7" r="3.0"/><circle cx="230.4" cy="547.7" r="3.0"/><circle cx="228.5" cy="547.8" r="3.0"/></g><g fill="#fff" stroke="#3434da" stroke-width="1.01"><circle cx="226.5" cy="547.9" r="3.0"/><circle cx="224.5" cy="548.0" r="3.0"/><circle cx="222.5" cy="548.1" r="3.0"/><circle cx="220.4" cy="548.1" r="3.0"/><circle cx="218.3" cy="548.2" r="3.0"/><circle cx="216.1" cy="548.2" r="3.0"/><circle cx="213.9" cy="548.3" r="3.0"/><circle cx="211.6" cy="548.4" r="3.0"/><circle cx="209.2" cy="548.4" r="3.0"/><circle cx="206.8" cy="548.4" r="3.0"/></g><g fill="#fff" stroke="#4444d0" stroke-width="0.93"><circle cx="204.4" cy="548.5" r="3.0"/><circle cx="201.9" cy="548.5" r="3.0"/><circle cx="199.3" cy="548.5" r="3.0"/><circle cx="196.6" cy="548.6" r="3.0"/><circle cx="193.9" cy="548.6" r="3.0"/><circle cx="191.1" cy="548.6" r="3.0"/><circle cx="188.2" cy="548.6" r="3.0"/></g><g fill="#fff" stroke="#5252c5" stroke-width="0.84"><circle cx="185.2" cy="548.6" r="3.0"/><circle cx="182.2" cy="548.6" r="3.0"/><circle cx="179.0" cy="548.6" r="3.0"/><circle cx="175.7" cy="548.6" r="3.0"/><circle cx="172.3" cy="548.6" r="3.0"/><circle cx="168.8" cy="548.5" r="3.0"/><circle cx="165.1" cy="548.5" r="3.0"/></g>
<g fill="#fff" stroke="#e39d67" stroke-width="0.83"><circle cx="174.4" cy="851.5" r="3.0"/><circle cx="182.0" cy="851.2" r="3.0"/><circle cx="188.9" cy="851.0" r="3.0"/><circle cx="195.5" cy="850.8" r="3.0"/><circle cx="201.6" cy="850.6" r="3.0"/><circle cx="207.3" cy="850.5" r="3.0"/></g><g fill="#fff" stroke="#e89854" stroke-width="0.90"><circle cx="212.7" cy="850.4" r="3.0"/><circle cx="217.9" cy="850.3" r="3.0"/><circle cx="222.7" cy="850.2" r="3.0"/><circle cx="227.4" cy="850.1" r="3.0"/><circle cx="231.8" cy="850.0" r="3.0"/><circle cx="236.0" cy="850.0" r="3.0"/><circle cx="240.1" cy="849.9" r="3.0"/><circle cx="244.0" cy="849.8" r="3.0"/><circle cx="247.7" cy="849.8" r="3.0"/></g><g fill="#fff" stroke="#ed9341" stroke-width="0.97"><circle cx="251.3" cy="849.7" r="3.0"/><circle cx="254.8" cy="849.7" r="3.0"/><circle cx="258.1" cy="849.7" r="3.0"/><circle cx="261.4" cy="849.6" r="3.0"/><circle cx="264.5" cy="849.6" r="3.0"/><circle cx="267.6" cy="849.5" r="3.0"/><circle cx="270.5" cy="849.5" r="3.0"/><circle cx="273.4" cy="849.5" r="3.0"/><circle cx="276.1" cy="849.4" r="3.0"/><circle cx="278.8" cy="849.4" r="3.0"/><circle cx="281.5" cy="849.4" r="3.0"/><circle cx="284.0" cy="849.3" r="3.0"/><circle cx="286.5" cy="849.3" r="3.0"/></g><g fill="#fff" stroke="#f28d2f" stroke-width="1.03"><circle cx="289.0" cy="849.3" r="3.0"/><circle cx="291.3" cy="849.2" r="3.0"/><circle cx="293.6" cy="849.2" r="3.0"/><circle cx="295.9" cy="849.2" r="3.0"/><circle cx="298.1" cy="849.2" r="3.0"/><circle cx="300.3" cy="849.1" r="3.0"/><circle cx="302.4" cy="849.1" r="3.0"/><circle cx="304.4" cy="849.1" r="3.0"/><circle cx="306.5" cy="849.0" r="3.0"/><circle cx="308.4" cy="849.0" r="3.0"/><circle cx="310.4" cy="848.9" r="3.0"/><circle cx="312.3" cy="848.9" r="3.0"/><circle cx="314.2" cy="848.8" r="3.0"/><circle cx="316.0" cy="848.8" r="3.0"/><circle cx="317.8" cy="848.7" r="3.0"/><circle cx="319.5" cy="848.7" r="3.0"/><circle cx="321.3" cy="848.6" r="3.0"/><circle cx="323.0" cy="848.5" r="3.0"/><circle cx="324.7" cy="848.5" r="3.0"/></g><g fill="#fff" stroke="#f7881c" stroke-width="1.10"><circle cx="326.3" cy="848.4" r="3.0"/><circle cx="327.9" cy="848.3" r="3.0"/><circle cx="329.5" cy="848.3" r="3.0"/><circle cx="331.1" cy="848.2" r="3.0"/><circle cx="332.6" cy="848.1" r="3.0"/><circle cx="334.1" cy="848.0" r="3.0"/><circle cx="335.6" cy="847.9" r="3.0"/><circle cx="337.1" cy="847.8" r="3.0"/><circle cx="338.5" cy="847.7" r="3.0"/><circle cx="340.0" cy="847.6" r="3.0"/><circle cx="341.4" cy="847.5" r="3.0"/><circle cx="342.8" cy="847.4" r="3.0"/><circle cx="344.1" cy="847.3" r="3.0"/><circle cx="345.5" cy="847.2" r="3.0"/><circle cx="346.8" cy="847.1" r="3.0"/><circle cx="348.1" cy="847.0" r="3.0"/><circle cx="349.4" cy="846.9" r="3.0"/><circle cx="350.7" cy="846.7" r="3.0"/><circle cx="351.9" cy="846.6" r="3.0"/><circle cx="353.2" cy="846.5" r="3.0"/><circle cx="354.4" cy="846.4" r="3.0"/><circle cx="355.6" cy="846.2" r="3.0"/><circle cx="356.8" cy="846.1" r="3.0"/><circle cx="358.0" cy="846.0" r="3.0"/><circle cx="359.2" cy="845.8" r="3.0"/><circle cx="360.3" cy="845.7" r="3.0"/><circle cx="361.5" cy="845.5" r="3.0"/><circle cx="362.6" cy="845.4" r="3.0"/><circle cx="363.7" cy="845.2" r="3.0"/></g><g fill="#fff" stroke="#fc8309" stroke-width="1.17"><circle cx="364.8" cy="845.1" r="3.0"/><circle cx="365.9" cy="844.9" r="3.0"/><circle cx="367.0" cy="844.8" r="3.0"/><circle cx="368.0" cy="844.6" r="3.0"/><circle cx="369.1" cy="844.5" r="3.0"/><circle cx="370.1" cy="844.3" r="3.0"/><circle cx="371.2" cy="844.1" r="3.0"/><circle cx="372.2" cy="844.0" r="3.0"/><circle cx="373.2" cy="843.8" r="3.0"/><circle cx="374.2" cy="843.6" r="3.0"/><circle cx="375.2" cy="843.5" r="3.0"/><circle cx="377.1" cy="843.1" r="3.0"/><circle cx="379.1" cy="842.8" r="3.0"/><circle cx="380.9" cy="842.4" r="3.0"/><circle cx="382.8" cy="842.1" r="3.0"/><circle cx="384.6" cy="841.7" r="3.0"/><circle cx="386.3" cy="841.3" r="3.0"/><circle cx="388.1" cy="840.9" r="3.0"/><circle cx="389.8" cy="840.6" r="3.0"/><circle cx="391.5" cy="840.2" r="3.0"/><circle cx="393.1" cy="839.8" r="3.0"/><circle cx="394.7" cy="839.4" r="3.0"/><circle cx="396.3" cy="839.0" r="3.0"/><circle cx="397.9" cy="838.6" r="3.0"/><circle cx="399.5" cy="838.2" r="3.0"/><circle cx="401.0" cy="837.8" r="3.0"/></g><g fill="none" stroke="#ff8000" stroke-width="1.2"><circle cx="402.5" cy="837.4" r="3.0"/><circle cx="403.9" cy="837.0" r="3.0"/><circle cx="405.4" cy="836.6" r="3.0"/><circle cx="406.8" cy="836.2" r="3.0"/><circle cx="408.2" cy="835.8" r="3.0"/><circle cx="409.6" cy="835.4" r="3.0"/><circle cx="411.0" cy="835.0" r="3.0"/><circle cx="412.3" cy="834.6" r="3.0"/><circle cx="413.7" cy="834.2" r="3.0"/><circle cx="415.0" cy="833.8" r="3.0"/><circle cx="416.3" cy="833.4" r="3.0"/><circle cx="417.6" cy="833.0" r="3.0"/><circle cx="418.8" cy="832.5" r="3.0"/><circle cx="420.1" cy="832.1" r="3.0"/><circle cx="421.3" cy="831.7" r="3.0"/><circle cx="422.5" cy="831.3" r="3.0"/><circle cx="423.7" cy="830.9" r="3.0"/><circle cx="424.9" cy="830.5" r="3.0"/><circle cx="426.1" cy="830.0" r="3.0"/><circle cx="427.2" cy="829.6" r="3.0"/><circle cx="428.4" cy="829.2" r="3.0"/><circle cx="429.5" cy="828.8" r="3.0"/><circle cx="430.6" cy="828.4" r="3.0"/><circle cx="431.7" cy="828.0" r="3.0"/><circle cx="432.8" cy="827.5" r="3.0"/><circle cx="433.9" cy="827.1" r="3.0"/><circle cx="435.0" cy="826.7" r="3.0"/><circle cx="436.0" cy="826.3" r="3.0"/><circle cx="437.1" cy="825.9" r="3.0"/><circle cx="438.1" cy="825.5" r="3.0"/><circle cx="439.1" cy="825.1" r="3.0"/><circle cx="440.1" cy="824.7" r="3.0"/><circle cx="441.1" cy="824.3" r="3.0"/><circle cx="442.1" cy="823.9" r="3.0"/><circle cx="443.1" cy="823.5" r="3.0"/><circle cx="444.1" cy="823.1" r="3.0"/><circle cx="445.1" cy="822.7" r="3.0"/><circle cx="446.0" cy="822.3" r="3.0"/><circle cx="446.9" cy="821.9" r="3.0"/><circle cx="447.9" cy="821.5" r="3.0"/><circle cx="448.8" cy="821.1" r="3.0"/><circle cx="449.7" cy="820.7" r="3.0"/><circle cx="450.6" cy="820.3" r="3.0"/><circle cx="451.5" cy="819.9" r="3.0"/><circle cx="452.4" cy="819.5" r="3.0"/><circle cx="453.3" cy="819.2" r="3.0"/><circle cx="454.2" cy="818.8" r="3.0"/><circle cx="455.0" cy="818.4" r="3.0"/><circle cx="455.9" cy="818.0" r="3.0"/><circle cx="456.8" cy="817.7" r="3.0"/><circle cx="457.6" cy="817.3" r="3.0"/><circle cx="458.4" cy="816.9" r="3.0"/><circle cx="459.3" cy="816.5" r="3.0"/><circle cx="460.1" cy="816.2" r="3.0"/><circle cx="460.9" cy="815.8" r="3.0"/><circle cx="461.7" cy="815.5" r="3.0"/><circle cx="462.5" cy="815.1" r="3.0"/><circle cx="463.3" cy="814.7" r="3.0"/><circle cx="464.1" cy="814.4" r="3.0"/><circle cx="464.9" cy="814.0" r="3.0"/><circle cx="465.7" cy="813.7" r="3.0"/><circle cx="466.4" cy="813.3" r="3.0"/><circle cx="467.2" cy="813.0" r="3.0"/><circle cx="468.0" cy="812.6" r="3.0"/><circle cx="468.7" cy="812.3" r="3.0"/><circle cx="469.5" cy="812.0" r="3.0"/><circle cx="470.2" cy="811.6" r="3.0"/><circle cx="470.9" cy="811.3" r="3.0"/><circle cx="471.7" cy="811.0" r="3.0"/><circle cx="472.8" cy="810.5" r="3.0"/><circle cx="473.8" cy="810.0" r="3.0"/><circle cx="474.9" cy="809.5" r="3.0"/><circle cx="475.9" cy="809.0" r="3.0"/><circle cx="477.0" cy="808.5" r="3.0"/><circle cx="478.0" cy="808.0" r="3.0"/><circle cx="479.0" cy="807.6" r="3.0"/><circle cx="480.0" cy="807.1" r="3.0"/><circle cx="481.0" cy="806.6" r="3.0"/><circle cx="482.0" cy="806.2" r="3.0"/><circle cx="483.0" cy="805.7" r="3.0"/><circle cx="483.9" cy="805.3" r="3.0"/><circle cx="484.9" cy="804.8" r="3.0"/><circle cx="485.8" cy="804.4" r="3.0"/><circle cx="486.8" cy="803.9" r="3.0"/><circle cx="487.7" cy="803.5" r="3.0"/><circle cx="488.6" cy="803.1" r="3.0"/><circle cx="489.5" cy="802.6" r="3.0"/><circle cx="490.4" cy="802.2" r="3.0"/><circle cx="491.3" cy="801.8" r="3.0"/><circle cx="492.2" cy="801.4" r="3.0"/><circle cx="493.1" cy="801.0" r="3.0"/><circle cx="494.0" cy="800.5" r="3.0"/><circle cx="494.8" cy="800.1" r="3.0"/><circle cx="495.7" cy="799.7" r="3.0"/><circle cx="496.5" cy="799.3" r="3.0"/><circle cx="497.4" cy="798.9" r="3.0"/><circle cx="498.2" cy="798.5" r="3.0"/><circle cx="499.0" cy="798.1" r="3.0"/><circle cx="499.9" cy="797.7" r="3.0"/><circle cx="500.7" cy="797.3" r="3.0"/><circle cx="501.5" cy="796.9" r="3.0"/><circle cx="502.3" cy="796.6" r="3.0"/><circle cx="503.1" cy="796.2" r="3.0"/><circle cx="503.8" cy="795.8" r="3.0"/><circle cx="504.6" cy="795.4" r="3.0"/><circle cx="505.4" cy="795.0" r="3.0"/><circle cx="506.2" cy="794.7" r="3.0"/><circle cx="506.9" cy="794.3" r="3.0"/><circle cx="507.7" cy="793.9" r="3.0"/><circle cx="508.4" cy="793.6" r="3.0"/><circle cx="509.2" cy="793.2" r="3.0"/><circle cx="509.9" cy="792.8" r="3.0"/><circle cx="510.6" cy="792.5" r="3.0"/><circle cx="511.4" cy="792.1" r="3.0"/><circle cx="512.1" cy="791.8" r="3.0"/><circle cx="513.0" cy="791.3" r="3.0"/><circle cx="514.0" cy="790.8" r="3.0"/><circle cx="514.9" cy="790.4" r="3.0"/><circle cx="515.9" cy="789.9" r="3.0"/><circle cx="516.8" cy="789.5" r="3.0"/><circle cx="517.7" cy="789.0" r="3.0"/><circle cx="518.6" cy="788.6" r="3.0"/><circle cx="519.5" cy="788.1" r="3.0"/><circle cx="520.4" cy="787.7" r="3.0"/><circle cx="521.2" cy="787.3" r="3.0"/><circle cx="522.1" cy="786.8" r="3.0"/><circle cx="523.0" cy="786.4" r="3.0"/><circle cx="523.8" cy="786.0" r="3.0"/><circle cx="524.7" cy="785.6" r="3.0"/><circle cx="525.5" cy="785.1" r="3.0"/><circle cx="526.3" cy="784.7" r="3.0"/><circle cx="527.1" cy="784.3" r="3.0"/><circle cx="528.0" cy="783.9" r="3.0"/><circle cx="528.8" cy="783.5" r="3.0"/><circle cx="529.6" cy="783.1" r="3.0"/><circle cx="530.4" cy="782.7" r="3.0"/><circle cx="531.2" cy="782.3" r="3.0"/><circle cx="531.9" cy="781.9" r="3.0"/><circle cx="532.7" cy="781.5" r="3.0"/><circle cx="533.5" cy="781.1" r="3.0"/><circle cx="534.3" cy="780.7" r="3.0"/><circle cx="535.0" cy="780.4" r="3.0"/><circle cx="535.8" cy="780.0" r="3.0"/><circle cx="536.5" cy="779.6" r="3.0"/><circle cx="537.3" cy="779.2" r="3.0"/><circle cx="538.0" cy="778.8" r="3.0"/><circle cx="538.7" cy="778.5" r="3.0"/><circle cx="539.5" cy="778.1" r="3.0"/><circle cx="540.2" cy="777.7" r="3.0"/><circle cx="540.9" cy="777.4" r="3.0"/><circle cx="541.8" cy="776.9" r="3.0"/><circle cx="542.6" cy="776.5" r="3.0"/><circle cx="543.5" cy="776.0" r="3.0"/><circle cx="544.4" cy="775.6" r="3.0"/><circle cx="545.2" cy="775.2" r="3.0"/><circle cx="546.1" cy="774.7" r="3.0"/><circle cx="546.9" cy="774.3" r="3.0"/><circle cx="547.8" cy="773.9" r="3.0"/><circle cx="548.6" cy="773.4" r="3.0"/><circle cx="549.4" cy="773.0" r="3.0"/><circle cx="550.2" cy="772.6" r="3.0"/><circle cx="551.0" cy="772.2" r="3.0"/><circle cx="551.8" cy="771.8" r="3.0"/><circle cx="552.6" cy="771.4" r="3.0"/><circle cx="553.4" cy="771.0" r="3.0"/><circle cx="554.2" cy="770.6" r="3.0"/><circle cx="554.9" cy="770.2" r="3.0"/><circle cx="555.7" cy="769.8" r="3.0"/><circle cx="556.5" cy="769.4" r="3.0"/><circle cx="557.2" cy="769.0" r="3.0"/><circle cx="558.0" cy="768.6" r="3.0"/><circle cx="558.7" cy="768.2" r="3.0"/><circle cx="559.4" cy="767.8" r="3.0"/><circle cx="560.2" cy="767.4" r="3.0"/><circle cx="560.9" cy="767.1" r="3.0"/><circle cx="561.6" cy="766.7" r="3.0"/><circle cx="562.3" cy="766.3" r="3.0"/><circle cx="563.1" cy="766.0" r="3.0"/><circle cx="563.9" cy="765.5" r="3.0"/><circle cx="564.7" cy="765.1" r="3.0"/><circle cx="565.6" cy="764.6" r="3.0"/><circle cx="566.4" cy="764.2" r="3.0"/><circle cx="567.2" cy="763.8" r="3.0"/><circle cx="568.0" cy="763.4" r="3.0"/><circle cx="568.8" cy="762.9" r="3.0"/><circle cx="569.6" cy="762.5" r="3.0"/><circle cx="570.4" cy="762.1" r="3.0"/><circle cx="571.2" cy="761.7" r="3.0"/><circle cx="572.0" cy="761.3" r="3.0"/><circle cx="572.7" cy="760.9" r="3.0"/><circle cx="573.5" cy="760.5" r="3.0"/><circle cx="574.3" cy="760.1" r="3.0"/><circle cx="575.0" cy="759.7" r="3.0"/><circle cx="575.8" cy="759.3" r="3.0"/><circle cx="576.5" cy="758.9" r="3.0"/><circle cx="577.2" cy="758.5" r="3.0"/><circle cx="578.0" cy="758.1" r="3.0"/><circle cx="578.7" cy="757.7" r="3.0"/><circle cx="579.4" cy="757.4" r="3.0"/><circle cx="580.1" cy="757.0" r="3.0"/><circle cx="580.8" cy="756.6" r="3.0"/><circle cx="581.7" cy="756.2" r="3.0"/><circle cx="582.5" cy="755.7" r="3.0"/><circle cx="583.3" cy="755.3" r="3.0"/><circle cx="584.1" cy="754.9" r="3.0"/><circle cx="584.9" cy="754.5" r="3.0"/><circle cx="585.7" cy="754.0" r="3.0"/><circle cx="586.4" cy="753.6" r="3.0"/><circle cx="587.2" cy="753.2" r="3.0"/><circle cx="588.0" cy="752.8" r="3.0"/><circle cx="588.8" cy="752.4" r="3.0"/><circle cx="589.5" cy="752.0" r="3.0"/><circle cx="590.3" cy="751.6" r="3.0"/><circle cx="591.0" cy="751.2" r="3.0"/><circle cx="591.7" cy="750.8" r="3.0"/><circle cx="592.5" cy="750.4" r="3.0"/><circle cx="593.2" cy="750.0" r="3.0"/><circle cx="593.9" cy="749.6" r="3.0"/><circle cx="594.6" cy="749.2" r="3.0"/><circle cx="595.4" cy="748.9" r="3.0"/><circle cx="596.1" cy="748.5" r="3.0"/><circle cx="596.9" cy="748.1" r="3.0"/><circle cx="597.7" cy="747.6" r="3.0"/><circle cx="598.5" cy="747.2" r="3.0"/><circle cx="599.2" cy="746.8" r="3.0"/><circle cx="600.0" cy="746.4" r="3.0"/><circle cx="600.8" cy="746.0" r="3.0"/><circle cx="601.5" cy="745.5" r="3.0"/><circle cx="602.3" cy="745.1" r="3.0"/><circle cx="603.1" cy="744.7" r="3.0"/><circle cx="603.8" cy="744.3" r="3.0"/><circle cx="604.5" cy="743.9" r="3.0"/><circle cx="605.3" cy="743.5" r="3.0"/><circle cx="606.0" cy="743.1" r="3.0"/><circle cx="606.7" cy="742.8" r="3.0"/><circle cx="607.4" cy="742.4" r="3.0"/><circle cx="608.2" cy="742.0" r="3.0"/><circle cx="608.9" cy="741.6" r="3.0"/><circle cx="609.7" cy="741.2" r="3.0"/><circle cx="610.4" cy="740.8" r="3.0"/><circle cx="611.2" cy="740.3" r="3.0"/><circle cx="612.0" cy="739.9" r="3.0"/><circle cx="612.8" cy="739.5" r="3.0"/><circle cx="613.5" cy="739.1" r="3.0"/><circle cx="614.3" cy="738.7" r="3.0"/><circle cx="615.0" cy="738.3" r="3.0"/><circle cx="615.8" cy="737.9" r="3.0"/><circle cx="616.5" cy="737.5" r="3.0"/><circle cx="617.2" cy="737.1" r="3.0"/><circle cx="618.0" cy="736.7" r="3.0"/><circle cx="618.7" cy="736.3" r="3.0"/><circle cx="619.4" cy="735.9" r="3.0"/><circle cx="620.1" cy="735.5" r="3.0"/><circle cx="620.8" cy="735.1" r="3.0"/><circle cx="621.6" cy="734.7" r="3.0"/><circle cx="622.3" cy="734.3" r="3.0"/><circle cx="623.1" cy="733.9" r="3.0"/><circle cx="623.9" cy="733.5" r="3.0"/><circle cx="624.6" cy="733.1" r="3.0"/><circle cx="625.4" cy="732.7" r="3.0"/><circle cx="626.1" cy="732.2" r="3.0"/><circle cx="626.8" cy="731.8" r="3.0"/><circle cx="627.6" cy="731.4" r="3.0"/><circle cx="628.3" cy="731.1" r="3.0"/><circle cx="629.0" cy="730.7" r="3.0"/><circle cx="629.7" cy="730.3" r="3.0"/><circle cx="630.4" cy="729.9" r="3.0"/><circle cx="631.1" cy="729.5" r="3.0"/><circle cx="631.9" cy="729.1" r="3.0"/><circle cx="632.7" cy="728.7" r="3.0"/><circle cx="633.4" cy="728.3" r="3.0"/><circle cx="634.2" cy="727.8" r="3.0"/><circle cx="634.9" cy="727.4" r="3.0"/><circle cx="635.7" cy="727.0" r="3.0"/><circle cx="636.4" cy="726.6" r="3.0"/><circle cx="637.1" cy="726.2" r="3.0"/><circle cx="637.8" cy="725.8" r="3.0"/><circle cx="638.6" cy="725.4" r="3.0"/><circle cx="639.3" cy="725.1" r="3.0"/><circle cx="640.0" cy="724.7" r="3.0"/><circle cx="640.7" cy="724.3" r="3.0"/><circle cx="641.5" cy="723.8" r="3.0"/><circle cx="642.2" cy="723.4" r="3.0"/><circle cx="643.0" cy="723.0" r="3.0"/><circle cx="643.7" cy="722.6" r="3.0"/><circle cx="644.5" cy="722.2" r="3.0"/><circle cx="645.2" cy="721.8" r="3.0"/><circle cx="645.9" cy="721.4" r="3.0"/><circle cx="646.6" cy="721.0" r="3.0"/></g><circle cx="646.6" cy="721.0" r="3.0" fill="#fff" stroke="#f0a060" stroke-width="1.2"/>
<g fill="none" stroke="#0000ff" stroke-width="1.2"><circle cx="646.5" cy="611.2" r="3.0"/><circle cx="645.7" cy="611.6" r="3.0"/><circle cx="645.0" cy="612.0" r="3.0"/><circle cx="644.3" cy="612.4" r="3.0"/><circle cx="643.6" cy="612.8" r="3.0"/><circle cx="642.9" cy="613.2" r="3.0"/><circle cx="642.2" cy="613.6" r="3.0"/><circle cx="641.5" cy="614.0" r="3.0"/><circle cx="640.7" cy="614.4" r="3.0"/><circle cx="640.0" cy="614.8" r="3.0"/><circle cx="639.3" cy="615.2" r="3.0"/><circle cx="638.6" cy="615.6" r="3.0"/><circle cx="637.9" cy="616.0" r="3.0"/><circle cx="637.2" cy="616.4" r="3.0"/><circle cx="636.5" cy="616.8" r="3.0"/><circle cx="635.8" cy="617.3" r="3.0"/><circle cx="635.1" cy="617.7" r="3.0"/><circle cx="634.4" cy="618.1" r="3.0"/><circle cx="633.7" cy="618.6" r="3.0"/><circle cx="633.0" cy="619.0" r="3.0"/><circle cx="632.4" cy="619.4" r="3.0"/><circle cx="631.7" cy="619.8" r="3.0"/><circle cx="631.0" cy="620.3" r="3.0"/><circle cx="630.3" cy="620.7" r="3.0"/><circle cx="629.6" cy="621.2" r="3.0"/><circle cx="628.9" cy="621.6" r="3.0"/><circle cx="628.2" cy="622.1" r="3.0"/><circle cx="627.5" cy="622.5" r="3.0"/><circle cx="626.8" cy="623.0" r="3.0"/><circle cx="626.2" cy="623.4" r="3.0"/><circle cx="625.5" cy="623.9" r="3.0"/><circle cx="624.8" cy="624.3" r="3.0"/><circle cx="624.1" cy="624.8" r="3.0"/><circle cx="623.5" cy="625.3" r="3.0"/><circle cx="622.8" cy="625.8" r="3.0"/><circle cx="622.1" cy="626.2" r="3.0"/><circle cx="621.4" cy="626.7" r="3.0"/><circle cx="620.8" cy="627.1" r="3.0"/><circle cx="620.1" cy="627.6" r="3.0"/><circle cx="619.4" cy="628.1" r="3.0"/><circle cx="618.7" cy="628.6" r="3.0"/><circle cx="618.1" cy="629.1" r="3.0"/><circle cx="617.4" cy="629.5" r="3.0"/><circle cx="616.7" cy="630.0" r="3.0"/><circle cx="616.1" cy="630.5" r="3.0"/><circle cx="615.4" cy="631.0" r="3.0"/><circle cx="614.7" cy="631.5" r="3.0"/><circle cx="614.1" cy="632.0" r="3.0"/><circle cx="613.4" cy="632.4" r="3.0"/><circle cx="612.8" cy="632.9" r="3.0"/><circle cx="612.1" cy="633.4" r="3.0"/><circle cx="611.4" cy="633.9" r="3.0"/><circle cx="610.8" cy="634.4" r="3.0"/><circle cx="610.1" cy="634.9" r="3.0"/><circle cx="609.4" cy="635.4" r="3.0"/><circle cx="608.8" cy="635.9" r="3.0"/><circle cx="608.1" cy="636.4" r="3.0"/><circle cx="607.5" cy="636.8" r="3.0"/><circle cx="606.8" cy="637.3" r="3.0"/><circle cx="606.2" cy="637.8" r="3.0"/><circle cx="605.5" cy="638.4" r="3.0"/><circle cx="604.8" cy="638.9" r="3.0"/><circle cx="604.2" cy="639.4" r="3.0"/><circle cx="603.5" cy="639.8" r="3.0"/><circle cx="602.9" cy="640.3" r="3.0"/><circle cx="602.2" cy="640.8" r="3.0"/><circle cx="601.6" cy="641.4" r="3.0"/><circle cx="600.9" cy="641.9" r="3.0"/><circle cx="600.3" cy="642.4" r="3.0"/><circle cx="599.6" cy="642.9" r="3.0"/><circle cx="598.9" cy="643.4" r="3.0"/><circle cx="598.3" cy="643.9" r="3.0"/><circle cx="597.6" cy="644.4" r="3.0"/><circle cx="597.0" cy="644.9" r="3.0"/><circle cx="596.3" cy="645.4" r="3.0"/><circle cx="595.7" cy="645.9" r="3.0"/><circle cx="595.0" cy="646.4" r="3.0"/><circle cx="594.4" cy="647.0" r="3.0"/><circle cx="593.7" cy="647.5" r="3.0"/><circle cx="593.0" cy="648.0" r="3.0"/><circle cx="592.4" cy="648.5" r="3.0"/><circle cx="591.8" cy="649.0" r="3.0"/><circle cx="591.1" cy="649.5" r="3.0"/><circle cx="590.5" cy="650.0" r="3.0"/><circle cx="589.8" cy="650.5" r="3.0"/><circle cx="589.2" cy="651.0" r="3.0"/><circle cx="588.5" cy="651.6" r="3.0"/><circle cx="587.9" cy="652.1" r="3.0"/><circle cx="587.2" cy="652.6" r="3.0"/><circle cx="586.5" cy="653.1" r="3.0"/><circle cx="585.9" cy="653.7" r="3.0"/><circle cx="585.2" cy="654.2" r="3.0"/><circle cx="584.6" cy="654.7" r="3.0"/><circle cx="584.0" cy="655.2" r="3.0"/><circle cx="583.3" cy="655.7" r="3.0"/><circle cx="582.7" cy="656.2" r="3.0"/><circle cx="582.0" cy="656.7" r="3.0"/><circle cx="581.4" cy="657.2" r="3.0"/><circle cx="580.7" cy="657.7" r="3.0"/><circle cx="580.0" cy="658.2" r="3.0"/><circle cx="579.4" cy="658.8" r="3.0"/><circle cx="578.7" cy="659.3" r="3.0"/><circle cx="578.0" cy="659.8" r="3.0"/><circle cx="577.4" cy="660.3" r="3.0"/><circle cx="576.7" cy="660.8" r="3.0"/><circle cx="576.1" cy="661.3" r="3.0"/><circle cx="575.5" cy="661.8" r="3.0"/><circle cx="574.8" cy="662.3" r="3.0"/><circle cx="574.2" cy="662.8" r="3.0"/><circle cx="573.5" cy="663.4" r="3.0"/><circle cx="572.8" cy="663.9" r="3.0"/><circle cx="572.2" cy="664.4" r="3.0"/><circle cx="571.5" cy="664.9" r="3.0"/><circle cx="570.8" cy="665.4" r="3.0"/><circle cx="570.1" cy="666.0" r="3.0"/><circle cx="569.5" cy="666.5" r="3.0"/><circle cx="568.8" cy="667.0" r="3.0"/><circle cx="568.1" cy="667.5" r="3.0"/><circle cx="567.5" cy="668.0" r="3.0"/><circle cx="566.9" cy="668.5" r="3.0"/><circle cx="566.2" cy="669.0" r="3.0"/><circle cx="565.5" cy="669.5" r="3.0"/><circle cx="564.9" cy="670.0" r="3.0"/><circle cx="564.2" cy="670.5" r="3.0"/><circle cx="563.6" cy="671.0" r="3.0"/><circle cx="562.9" cy="671.5" r="3.0"/><circle cx="562.2" cy="672.0" r="3.0"/><circle cx="561.5" cy="672.6" r="3.0"/><circle cx="560.8" cy="673.1" r="3.0"/><circle cx="560.2" cy="673.6" r="3.0"/><circle cx="559.5" cy="674.1" r="3.0"/><circle cx="558.8" cy="674.7" r="3.0"/><circle cx="558.1" cy="675.1" r="3.0"/><circle cx="557.5" cy="675.6" r="3.0"/><circle cx="556.8" cy="676.1" r="3.0"/><circle cx="556.2" cy="676.6" r="3.0"/><circle cx="555.5" cy="677.1" r="3.0"/><circle cx="554.8" cy="677.6" r="3.0"/><circle cx="554.2" cy="678.1" r="3.0"/><circle cx="553.5" cy="678.6" r="3.0"/><circle cx="552.8" cy="679.1" r="3.0"/><circle cx="552.1" cy="679.6" r="3.0"/><circle cx="551.5" cy="680.1" r="3.0"/><circle cx="550.8" cy="680.6" r="3.0"/><circle cx="550.1" cy="681.1" r="3.0"/><circle cx="549.4" cy="681.6" r="3.0"/><circle cx="548.7" cy="682.1" r="3.0"/><circle cx="547.9" cy="682.6" r="3.0"/><circle cx="547.2" cy="683.1" r="3.0"/><circle cx="546.5" cy="683.6" r="3.0"/><circle cx="545.8" cy="684.1" r="3.0"/><circle cx="545.2" cy="684.6" r="3.0"/><circle cx="544.5" cy="685.0" r="3.0"/><circle cx="543.8" cy="685.5" r="3.0"/><circle cx="543.2" cy="686.0" r="3.0"/><circle cx="542.5" cy="686.4" r="3.0"/><circle cx="541.8" cy="686.9" r="3.0"/><circle cx="541.1" cy="687.4" r="3.0"/><circle cx="540.4" cy="687.9" r="3.0"/><circle cx="539.7" cy="688.4" r="3.0"/><circle cx="539.0" cy="688.8" r="3.0"/><circle cx="538.3" cy="689.3" r="3.0"/><circle cx="537.6" cy="689.8" r="3.0"/><circle cx="536.9" cy="690.3" r="3.0"/><circle cx="536.2" cy="690.8" r="3.0"/><circle cx="535.4" cy="691.3" r="3.0"/><circle cx="534.7" cy="691.8" r="3.0"/><circle cx="534.0" cy="692.2" r="3.0"/><circle cx="533.2" cy="692.7" r="3.0"/><circle cx="532.5" cy="693.2" r="3.0"/><circle cx="531.8" cy="693.7" r="3.0"/><circle cx="531.1" cy="694.1" r="3.0"/><circle cx="530.4" cy="694.5" r="3.0"/><circle cx="529.7" cy="695.0" r="3.0"/><circle cx="529.0" cy="695.4" r="3.0"/><circle cx="528.3" cy="695.9" r="3.0"/><circle cx="527.6" cy="696.3" r="3.0"/><circle cx="526.9" cy="696.8" r="3.0"/><circle cx="526.2" cy="697.2" r="3.0"/><circle cx="525.5" cy="697.7" r="3.0"/><circle cx="524.8" cy="698.1" r="3.0"/><circle cx="524.0" cy="698.5" r="3.0"/><circle cx="523.3" cy="699.0" r="3.0"/><circle cx="522.6" cy="699.4" r="3.0"/><circle cx="521.8" cy="699.9" r="3.0"/><circle cx="521.1" cy="700.3" r="3.0"/><circle cx="520.3" cy="700.8" r="3.0"/><circle cx="519.6" cy="701.3" r="3.0"/><circle cx="518.8" cy="701.7" r="3.0"/><circle cx="518.0" cy="702.2" r="3.0"/><circle cx="517.2" cy="702.6" r="3.0"/><circle cx="516.4" cy="703.1" r="3.0"/><circle cx="515.7" cy="703.5" r="3.0"/><circle cx="515.0" cy="703.9" r="3.0"/><circle cx="514.3" cy="704.3" r="3.0"/><circle cx="513.6" cy="704.7" r="3.0"/><circle cx="512.9" cy="705.1" r="3.0"/><circle cx="512.2" cy="705.5" r="3.0"/><circle cx="511.5" cy="705.9" r="3.0"/><circle cx="510.7" cy="706.3" r="3.0"/><circle cx="510.0" cy="706.7" r="3.0"/><circle cx="509.2" cy="707.1" r="3.0"/><circle cx="508.5" cy="707.6" r="3.0"/><circle cx="507.7" cy="708.0" r="3.0"/><circle cx="507.0" cy="708.4" r="3.0"/><circle cx="506.2" cy="708.8" r="3.0"/><circle cx="505.4" cy="709.2" r="3.0"/><circle cx="504.7" cy="709.7" r="3.0"/><circle cx="503.9" cy="710.1" r="3.0"/><circle cx="503.1" cy="710.5" r="3.0"/><circle cx="502.3" cy="710.9" r="3.0"/><circle cx="501.5" cy="711.3" r="3.0"/><circle cx="500.7" cy="711.8" r="3.0"/><circle cx="499.8" cy="712.2" r="3.0"/><circle cx="499.0" cy="712.6" r="3.0"/><circle cx="498.3" cy="713.0" r="3.0"/><circle cx="497.6" cy="713.4" r="3.0"/><circle cx="496.9" cy="713.8" r="3.0"/><circle cx="496.1" cy="714.1" r="3.0"/><circle cx="495.4" cy="714.5" r="3.0"/><circle cx="494.7" cy="714.9" r="3.0"/><circle cx="493.9" cy="715.3" r="3.0"/><circle cx="493.2" cy="715.7" r="3.0"/><circle cx="492.4" cy="716.0" r="3.0"/><circle cx="491.6" cy="716.4" r="3.0"/><circle cx="490.9" cy="716.8" r="3.0"/><circle cx="490.1" cy="717.2" r="3.0"/><circle cx="489.3" cy="717.6" r="3.0"/><circle cx="488.5" cy="718.0" r="3.0"/><circle cx="487.7" cy="718.4" r="3.0"/><circle cx="486.9" cy="718.8" r="3.0"/><circle cx="486.1" cy="719.2" r="3.0"/><circle cx="485.3" cy="719.6" r="3.0"/><circle cx="484.5" cy="720.0" r="3.0"/><circle cx="483.6" cy="720.4" r="3.0"/><circle cx="482.8" cy="720.8" r="3.0"/><circle cx="481.9" cy="721.2" r="3.0"/><circle cx="481.1" cy="721.7" r="3.0"/><circle cx="480.2" cy="722.1" r="3.0"/><circle cx="479.5" cy="722.4" r="3.0"/><circle cx="478.8" cy="722.8" r="3.0"/><circle cx="478.1" cy="723.1" r="3.0"/><circle cx="477.3" cy="723.5" r="3.0"/><circle cx="476.6" cy="723.9" r="3.0"/><circle cx="475.8" cy="724.2" r="3.0"/><circle cx="475.1" cy="724.6" r="3.0"/><circle cx="474.3" cy="725.0" r="3.0"/><circle cx="473.5" cy="725.3" r="3.0"/><circle cx="472.8" cy="725.7" r="3.0"/><circle cx="472.0" cy="726.1" r="3.0"/><circle cx="471.2" cy="726.5" r="3.0"/><circle cx="470.4" cy="726.8" r="3.0"/><circle cx="469.6" cy="727.2" r="3.0"/><circle cx="468.8" cy="727.6" r="3.0"/><circle cx="468.0" cy="728.0" r="3.0"/><circle cx="467.2" cy="728.4" r="3.0"/><circle cx="466.3" cy="728.8" r="3.0"/><circle cx="465.5" cy="729.2" r="3.0"/><circle cx="464.7" cy="729.6" r="3.0"/><circle cx="463.8" cy="730.0" r="3.0"/><circle cx="463.0" cy="730.4" r="3.0"/><circle cx="462.1" cy="730.9" r="3.0"/><circle cx="461.2" cy="731.3" r="3.0"/><circle cx="460.3" cy="731.7" r="3.0"/><circle cx="459.4" cy="732.1" r="3.0"/><circle cx="458.6" cy="732.6" r="3.0"/><circle cx="457.8" cy="732.9" r="3.0"/><circle cx="457.1" cy="733.3" r="3.0"/><circle cx="456.4" cy="733.6" r="3.0"/><circle cx="455.6" cy="734.0" r="3.0"/><circle cx="454.9" cy="734.3" r="3.0"/><circle cx="454.1" cy="734.7" r="3.0"/><circle cx="453.4" cy="735.0" r="3.0"/><circle cx="452.6" cy="735.4" r="3.0"/><circle cx="451.8" cy="735.8" r="3.0"/><circle cx="451.1" cy="736.2" r="3.0"/><circle cx="450.3" cy="736.5" r="3.0"/><circle cx="449.5" cy="736.9" r="3.0"/><circle cx="448.7" cy="737.3" r="3.0"/><circle cx="447.9" cy="737.7" r="3.0"/><circle cx="447.1" cy="738.1" r="3.0"/><circle cx="446.3" cy="738.4" r="3.0"/><circle cx="445.5" cy="738.8" r="3.0"/><circle cx="444.6" cy="739.2" r="3.0"/><circle cx="443.8" cy="739.6" r="3.0"/><circle cx="443.0" cy="740.0" r="3.0"/><circle cx="442.1" cy="740.4" r="3.0"/><circle cx="441.3" cy="740.8" r="3.0"/><circle cx="440.4" cy="741.3" r="3.0"/><circle cx="439.5" cy="741.7" r="3.0"/><circle cx="438.6" cy="742.1" r="3.0"/><circle cx="437.7" cy="742.5" r="3.0"/><circle cx="436.9" cy="742.9" r="3.0"/><circle cx="435.9" cy="743.4" r="3.0"/><circle cx="435.0" cy="743.8" r="3.0"/><circle cx="434.1" cy="744.2" r="3.0"/><circle cx="433.2" cy="744.7" r="3.0"/><circle cx="432.2" cy="745.1" r="3.0"/><circle cx="431.3" cy="745.6" r="3.0"/><circle cx="430.3" cy="746.0" r="3.0"/><circle cx="429.6" cy="746.3" r="3.0"/><circle cx="428.9" cy="746.7" r="3.0"/><circle cx="428.1" cy="747.0" r="3.0"/><circle cx="427.4" cy="747.4" r="3.0"/><circle cx="426.6" cy="747.7" r="3.0"/><circle cx="425.9" cy="748.1" r="3.0"/><circle cx="425.1" cy="748.4" r="3.0"/><circle cx="424.4" cy="748.8" r="3.0"/><circle cx="423.6" cy="749.1" r="3.0"/><circle cx="422.8" cy="749.5" r="3.0"/><circle cx="422.0" cy="749.8" r="3.0"/><circle cx="421.2" cy="750.2" r="3.0"/><circle cx="420.4" cy="750.6" r="3.0"/><circle cx="419.6" cy="750.9" r="3.0"/><circle cx="418.8" cy="751.3" r="3.0"/><circle cx="418.0" cy="751.7" r="3.0"/><circle cx="417.2" cy="752.0" r="3.0"/><circle cx="416.4" cy="752.4" r="3.0"/><circle cx="415.5" cy="752.8" r="3.0"/><circle cx="414.7" cy="753.2" r="3.0"/><circle cx="413.8" cy="753.5" r="3.0"/><circle cx="413.0" cy="753.9" r="3.0"/><circle cx="412.1" cy="754.3" r="3.0"/><circle cx="411.2" cy="754.7" r="3.0"/><circle cx="410.3" cy="755.1" r="3.0"/><circle cx="409.4" cy="755.5" r="3.0"/><circle cx="408.5" cy="755.9" r="3.0"/><circle cx="407.6" cy="756.3" r="3.0"/><circle cx="406.7" cy="756.7" r="3.0"/><circle cx="405.8" cy="757.1" r="3.0"/><circle cx="404.8" cy="757.5" r="3.0"/><circle cx="403.9" cy="757.9" r="3.0"/><circle cx="403.0" cy="758.3" r="3.0"/><circle cx="402.0" cy="758.7" r="3.0"/><circle cx="401.0" cy="759.1" r="3.0"/><circle cx="400.0" cy="759.5" r="3.0"/><circle cx="399.0" cy="760.0" r="3.0"/><circle cx="398.0" cy="760.4" r="3.0"/><circle cx="397.0" cy="760.8" r="3.0"/><circle cx="396.0" cy="761.2" r="3.0"/><circle cx="395.0" cy="761.7" r="3.0"/><circle cx="393.9" cy="762.1" r="3.0"/><circle cx="392.9" cy="762.5" r="3.0"/><circle cx="391.8" cy="762.9" r="3.0"/><circle cx="390.7" cy="763.4" r="3.0"/><circle cx="389.6" cy="763.8" r="3.0"/><circle cx="388.5" cy="764.3" r="3.0"/><circle cx="387.8" cy="764.6" r="3.0"/><circle cx="387.0" cy="764.8" r="3.0"/><circle cx="386.2" cy="765.1" r="3.0"/><circle cx="385.5" cy="765.4" r="3.0"/><circle cx="384.7" cy="765.7" r="3.0"/><circle cx="383.9" cy="766.0" r="3.0"/><circle cx="383.2" cy="766.3" r="3.0"/><circle cx="382.4" cy="766.6" r="3.0"/><circle cx="381.6" cy="766.9" r="3.0"/><circle cx="380.8" cy="767.2" r="3.0"/><circle cx="380.0" cy="767.5" r="3.0"/><circle cx="379.2" cy="767.9" r="3.0"/><circle cx="378.3" cy="768.2" r="3.0"/><circle cx="377.5" cy="768.5" r="3.0"/><circle cx="376.7" cy="768.8" r="3.0"/><circle cx="375.8" cy="769.1" r="3.0"/><circle cx="375.0" cy="769.4" r="3.0"/><circle cx="374.1" cy="769.7" r="3.0"/><circle cx="373.3" cy="770.0" r="3.0"/><circle cx="372.4" cy="770.3" r="3.0"/><circle cx="371.5" cy="770.6" r="3.0"/><circle cx="370.6" cy="770.9" r="3.0"/><circle cx="369.7" cy="771.2" r="3.0"/><circle cx="368.8" cy="771.6" r="3.0"/><circle cx="367.9" cy="771.9" r="3.0"/><circle cx="367.0" cy="772.2" r="3.0"/><circle cx="366.1" cy="772.5" r="3.0"/><circle cx="365.1" cy="772.8" r="3.0"/><circle cx="364.2" cy="773.1" r="3.0"/><circle cx="363.2" cy="773.4" r="3.0"/><circle cx="362.2" cy="773.7" r="3.0"/><circle cx="361.3" cy="774.1" r="3.0"/><circle cx="360.3" cy="774.4" r="3.0"/><circle cx="359.3" cy="774.7" r="3.0"/><circle cx="358.3" cy="775.0" r="3.0"/><circle cx="357.2" cy="775.3" r="3.0"/><circle cx="356.2" cy="775.6" r="3.0"/><circle cx="355.2" cy="775.9" r="3.0"/><circle cx="354.1" cy="776.3" r="3.0"/><circle cx="353.1" cy="776.6" r="3.0"/><circle cx="352.0" cy="776.9" r="3.0"/><circle cx="350.9" cy="777.2" r="3.0"/><circle cx="349.8" cy="777.5" r="3.0"/><circle cx="348.7" cy="777.8" r="3.0"/><circle cx="347.5" cy="778.1" r="3.0"/><circle cx="346.4" cy="778.4" r="3.0"/><circle cx="345.3" cy="778.7" r="3.0"/><circle cx="344.1" cy="779.0" r="3.0"/><circle cx="342.9" cy="779.3" r="3.0"/><circle cx="341.7" cy="779.6" r="3.0"/><circle cx="340.5" cy="779.9" r="3.0"/><circle cx="339.3" cy="780.2" r="3.0"/><circle cx="338.0" cy="780.5" r="3.0"/><circle cx="336.8" cy="780.8" r="3.0"/><circle cx="335.5" cy="781.1" r="3.0"/><circle cx="334.2" cy="781.4" r="3.0"/><circle cx="332.9" cy="781.7" r="3.0"/><circle cx="331.6" cy="782.0" r="3.0"/><circle cx="330.2" cy="782.3" r="3.0"/><circle cx="328.9" cy="782.6" r="3.0"/><circle cx="327.5" cy="782.9" r="3.0"/><circle cx="326.1" cy="783.1" r="3.0"/><circle cx="324.7" cy="783.4" r="3.0"/><circle cx="323.2" cy="783.7" r="3.0"/><circle cx="321.7" cy="784.0" r="3.0"/><circle cx="320.3" cy="784.3" r="3.0"/><circle cx="318.7" cy="784.5" r="3.0"/><circle cx="317.2" cy="784.8" r="3.0"/><circle cx="315.6" cy="785.1" r="3.0"/><circle cx="314.8" cy="785.2" r="3.0"/><circle cx="314.1" cy="785.3" r="3.0"/><circle cx="313.2" cy="785.5" r="3.0"/><circle cx="312.4" cy="785.6" r="3.0"/><circle cx="311.6" cy="785.7" r="3.0"/><circle cx="310.8" cy="785.9" r="3.0"/><circle cx="310.0" cy="786.0" r="3.0"/><circle cx="309.1" cy="786.1" r="3.0"/><circle cx="308.3" cy="786.2" r="3.0"/><circle cx="307.4" cy="786.4" r="3.0"/><circle cx="306.6" cy="786.5" r="3.0"/><circle cx="305.7" cy="786.6" r="3.0"/><circle cx="304.8" cy="786.7" r="3.0"/><circle cx="303.9" cy="786.9" r="3.0"/><circle cx="303.0" cy="787.0" r="3.0"/><circle cx="302.1" cy="787.1" r="3.0"/><circle cx="301.2" cy="787.2" r="3.0"/><circle cx="300.3" cy="787.3" r="3.0"/><circle cx="299.4" cy="787.5" r="3.0"/><circle cx="298.5" cy="787.6" r="3.0"/><circle cx="297.5" cy="787.7" r="3.0"/><circle cx="296.6" cy="787.8" r="3.0"/><circle cx="295.6" cy="787.9" r="3.0"/><circle cx="294.6" cy="788.0" r="3.0"/><circle cx="293.6" cy="788.1" r="3.0"/><circle cx="292.6" cy="788.3" r="3.0"/><circle cx="291.6" cy="788.4" r="3.0"/><circle cx="290.6" cy="788.5" r="3.0"/><circle cx="289.6" cy="788.6" r="3.0"/></g><g fill="#fff" stroke="#0808fa" stroke-width="1.26"><circle cx="288.6" cy="788.7" r="3.0"/><circle cx="287.5" cy="788.8" r="3.0"/><circle cx="286.5" cy="788.9" r="3.0"/><circle cx="285.4" cy="789.0" r="3.0"/><circle cx="284.3" cy="789.1" r="3.0"/><circle cx="283.2" cy="789.2" r="3.0"/><circle cx="282.1" cy="789.3" r="3.0"/><circle cx="281.0" cy="789.4" r="3.0"/><circle cx="279.8" cy="789.5" r="3.0"/><circle cx="278.7" cy="789.6" r="3.0"/><circle cx="277.5" cy="789.7" r="3.0"/><circle cx="276.4" cy="789.8" r="3.0"/><circle cx="275.2" cy="789.9" r="3.0"/><circle cx="274.0" cy="790.0" r="3.0"/><circle cx="272.8" cy="790.0" r="3.0"/><circle cx="271.5" cy="790.1" r="3.0"/><circle cx="270.3" cy="790.2" r="3.0"/><circle cx="269.0" cy="790.3" r="3.0"/></g><g fill="#fff" stroke="#1616ef" stroke-width="1.18"><circle cx="267.7" cy="790.4" r="3.0"/><circle cx="266.4" cy="790.5" r="3.0"/><circle cx="265.1" cy="790.5" r="3.0"/><circle cx="263.8" cy="790.6" r="3.0"/><circle cx="262.4" cy="790.7" r="3.0"/><circle cx="261.0" cy="790.8" r="3.0"/><circle cx="259.7" cy="790.8" r="3.0"/><circle cx="258.2" cy="790.9" r="3.0"/><circle cx="256.8" cy="791.0" r="3.0"/><circle cx="255.3" cy="791.0" r="3.0"/><circle cx="253.9" cy="791.1" r="3.0"/><circle cx="252.4" cy="791.1" r="3.0"/><circle cx="250.8" cy="791.2" r="3.0"/><circle cx="249.3" cy="791.3" r="3.0"/><circle cx="247.7" cy="791.3" r="3.0"/></g><g fill="#fff" stroke="#2626e5" stroke-width="1.09"><circle cx="246.1" cy="791.4" r="3.0"/><circle cx="244.5" cy="791.4" r="3.0"/><circle cx="242.8" cy="791.5" r="3.0"/><circle cx="241.1" cy="791.5" r="3.0"/><circle cx="239.4" cy="791.6" r="3.0"/><circle cx="237.7" cy="791.6" r="3.0"/><circle cx="235.9" cy="791.7" r="3.0"/><circle cx="234.1" cy="791.7" r="3.0"/><circle cx="232.3" cy="791.7" r="3.0"/><circle cx="230.4" cy="791.8" r="3.0"/><circle cx="228.5" cy="791.8" r="3.0"/><circle cx="226.5" cy="791.8" r="3.0"/></g><g fill="#fff" stroke="#3434da" stroke-width="1.01"><circle cx="224.5" cy="791.9" r="3.0"/><circle cx="222.5" cy="791.9" r="3.0"/><circle cx="220.4" cy="791.9" r="3.0"/><circle cx="218.3" cy="791.9" r="3.0"/><circle cx="216.1" cy="792.0" r="3.0"/><circle cx="213.9" cy="792.0" r="3.0"/><circle cx="211.6" cy="792.0" r="3.0"/><circle cx="209.2" cy="792.0" r="3.0"/><circle cx="206.8" cy="792.0" r="3.0"/><circle cx="204.4" cy="792.1" r="3.0"/></g><g fill="#fff" stroke="#4444d0" stroke-width="0.93"><circle cx="201.9" cy="792.1" r="3.0"/><circle cx="199.3" cy="792.1" r="3.0"/><circle cx="196.6" cy="792.1" r="3.0"/><circle cx="193.9" cy="792.1" r="3.0"/><circle cx="191.1" cy="792.2" r="3.0"/><circle cx="188.2" cy="792.2" r="3.0"/><circle cx="185.2" cy="792.2" r="3.0"/></g><g fill="#fff" stroke="#5252c5" stroke-width="0.84"><circle cx="182.2" cy="792.3" r="3.0"/><circle cx="179.0" cy="792.3" r="3.0"/><circle cx="175.7" cy="792.3" r="3.0"/><circle cx="172.3" cy="792.4" r="3.0"/><circle cx="168.8" cy="792.5" r="3.0"/><circle cx="165.1" cy="792.6" r="3.0"/><circle cx="161.3" cy="792.6" r="3.0"/></g>
<path d="M237.0 784.7L311.6 769.0M320.7 767.8L379.9 763.4M389.0 762.2L421.9 755.9M430.8 753.6L478.8 737.7M494.7 729.1L559.6 688.9M567.3 683.9L572.2 680.3M579.9 675.3L601.3 662.2M608.8 657.0L643.8 629.8" fill="none" stroke="#555" stroke-width="1"/>
<g fill="#000"><rect x="229.1" y="782.2" width="6.8" height="6.8"/><rect x="312.7" y="764.7" width="6.8" height="6.8"/><rect x="381.1" y="759.7" width="6.8" height="6.8"/><rect x="423.0" y="751.6" width="6.8" height="6.8"/><rect x="479.8" y="732.9" width="6.8" height="6.8"/><rect x="487.4" y="728.1" width="6.8" height="6.8"/><rect x="560.1" y="683.1" width="6.8" height="6.8"/><rect x="572.6" y="674.3" width="6.8" height="6.8"/><rect x="601.8" y="656.4" width="6.8" height="6.8"/><rect x="644.0" y="623.6" width="6.8" height="6.8"/></g>
<path d="M94.2 0.4L94.2 6.7M317.2 0.4L317.2 6.7M540.2 0.4L540.2 6.7M161.3 0.4L161.3 3.7M200.6 0.4L200.6 3.7M228.5 0.4L228.5 3.7M250.1 0.4L250.1 3.7M267.7 0.4L267.7 3.7M282.7 0.4L282.7 3.7M295.6 0.4L295.6 3.7M307 0.4L307 3.7M384.3 0.4L384.3 3.7M423.6 0.4L423.6 3.7M451.5 0.4L451.5 3.7M473.1 0.4L473.1 3.7M490.7 0.4L490.7 3.7M505.7 0.4L505.7 3.7M518.6 0.4L518.6 3.7M530 0.4L530 3.7M607.3 0.4L607.3 3.7M646.6 0.4L646.6 3.7M94.2 287.6L94.2 294.6M317.2 287.6L317.2 294.6M540.2 287.6L540.2 294.6M161.3 287.6L161.3 291.6M200.6 287.6L200.6 291.6M228.5 287.6L228.5 291.6M250.1 287.6L250.1 291.6M267.7 287.6L267.7 291.6M282.7 287.6L282.7 291.6M295.6 287.6L295.6 291.6M307 287.6L307 291.6M384.3 287.6L384.3 291.6M423.6 287.6L423.6 291.6M451.5 287.6L451.5 291.6M473.1 287.6L473.1 291.6M490.7 287.6L490.7 291.6M505.7 287.6L505.7 291.6M518.6 287.6L518.6 291.6M530 287.6L530 291.6M607.3 287.6L607.3 291.6M646.6 287.6L646.6 291.6M94.2 568.9L94.2 582.5M317.2 568.9L317.2 582.5M540.2 568.9L540.2 582.5M161.3 571.9L161.3 579.5M200.6 571.9L200.6 579.5M228.5 571.9L228.5 579.5M250.1 571.9L250.1 579.5M267.7 571.9L267.7 579.5M282.7 571.9L282.7 579.5M295.6 571.9L295.6 579.5M307 571.9L307 579.5M384.3 571.9L384.3 579.5M423.6 571.9L423.6 579.5M451.5 571.9L451.5 579.5M473.1 571.9L473.1 579.5M490.7 571.9L490.7 579.5M505.7 571.9L505.7 579.5M518.6 571.9L518.6 579.5M530 571.9L530 579.5M607.3 571.9L607.3 579.5M646.6 571.9L646.6 579.5M94.2 863.6L94.2 869.8M317.2 863.6L317.2 869.8M540.2 863.6L540.2 869.8M161.3 863.6L161.3 866.8M200.6 863.6L200.6 866.8M228.5 863.6L228.5 866.8M250.1 863.6L250.1 866.8M267.7 863.6L267.7 866.8M282.7 863.6L282.7 866.8M295.6 863.6L295.6 866.8M307 863.6L307 866.8M384.3 863.6L384.3 866.8M423.6 863.6L423.6 866.8M451.5 863.6L451.5 866.8M473.1 863.6L473.1 866.8M490.7 863.6L490.7 866.8M505.7 863.6L505.7 866.8M518.6 863.6L518.6 866.8M530 863.6L530 866.8M607.3 863.6L607.3 866.8M646.6 863.6L646.6 866.8M88.2 287.6L94.2 287.6M668.2 287.6L674.2 287.6M88.2 181.3L94.2 181.3M668.2 181.3L674.2 181.3M88.2 75L94.2 75M668.2 75L674.2 75M91 255.6L94.2 255.6M671 255.6L674.2 255.6M91 236.9L94.2 236.9M671 236.9L674.2 236.9M91 223.6L94.2 223.6M671 223.6L674.2 223.6M91 213.3L94.2 213.3M671 213.3L674.2 213.3M91 204.9L94.2 204.9M671 204.9L674.2 204.9M91 197.8L94.2 197.8M671 197.8L674.2 197.8M91 191.6L94.2 191.6M671 191.6L674.2 191.6M91 186.2L94.2 186.2M671 186.2L674.2 186.2M91 149.3L94.2 149.3M671 149.3L674.2 149.3M91 130.6L94.2 130.6M671 130.6L674.2 130.6M91 117.3L94.2 117.3M671 117.3L674.2 117.3M91 107L94.2 107M671 107L674.2 107M91 98.6L94.2 98.6M671 98.6L674.2 98.6M91 91.5L94.2 91.5M671 91.5L674.2 91.5M91 85.3L94.2 85.3M671 85.3L674.2 85.3M91 79.9L94.2 79.9M671 79.9L674.2 79.9M91 43L94.2 43M671 43L674.2 43M91 24.3L94.2 24.3M671 24.3L674.2 24.3M91 11L94.2 11M671 11L674.2 11M91 0.7L94.2 0.7M671 0.7L674.2 0.7M88.2 575.7L94.2 575.7M668.2 575.7L674.2 575.7M88.2 495.8L94.2 495.8M668.2 495.8L674.2 495.8M88.2 415.9L94.2 415.9M668.2 415.9L674.2 415.9M88.2 336L94.2 336M668.2 336L674.2 336M91 551.6L94.2 551.6M671 551.6L674.2 551.6M91 537.6L94.2 537.6M671 537.6L674.2 537.6M91 527.6L94.2 527.6M671 527.6L674.2 527.6M91 519.9L94.2 519.9M671 519.9L674.2 519.9M91 513.5L94.2 513.5M671 513.5L674.2 513.5M91 508.2L94.2 508.2M671 508.2L674.2 508.2M91 503.5L94.2 503.5M671 503.5L674.2 503.5M91 499.5L94.2 499.5M671 499.5L674.2 499.5M91 471.7L94.2 471.7M671 471.7L674.2 471.7M91 457.7L94.2 457.7M671 457.7L674.2 457.7M91 447.7L94.2 447.7M671 447.7L674.2 447.7M91 440L94.2 440M671 440L674.2 440M91 433.6L94.2 433.6M671 433.6L674.2 433.6M91 428.3L94.2 428.3M671 428.3L674.2 428.3M91 423.6L94.2 423.6M671 423.6L674.2 423.6M91 419.6L94.2 419.6M671 419.6L674.2 419.6M91 391.8L94.2 391.8M671 391.8L674.2 391.8M91 377.8L94.2 377.8M671 377.8L674.2 377.8M91 367.8L94.2 367.8M671 367.8L674.2 367.8M91 360.1L94.2 360.1M671 360.1L674.2 360.1M91 353.7L94.2 353.7M671 353.7L674.2 353.7M91 348.4L94.2 348.4M671 348.4L674.2 348.4M91 343.7L94.2 343.7M671 343.7L674.2 343.7M91 339.7L94.2 339.7M671 339.7L674.2 339.7M91 311.9L94.2 311.9M671 311.9L674.2 311.9M91 297.9L94.2 297.9M671 297.9L674.2 297.9M91 287.9L94.2 287.9M671 287.9L674.2 287.9M88.2 825.6L94.2 825.6M88.2 771.2L94.2 771.2M88.2 716.8L94.2 716.8M88.2 662.4L94.2 662.4M88.2 608L94.2 608M91 854L94.2 854M91 847.2L94.2 847.2M91 842L94.2 842M91 837.6L94.2 837.6M91 834L94.2 834M91 830.8L94.2 830.8M91 828.1L94.2 828.1M91 809.2L94.2 809.2M91 799.6L94.2 799.6M91 792.8L94.2 792.8M91 787.6L94.2 787.6M91 783.2L94.2 783.2M91 779.6L94.2 779.6M91 776.4L94.2 776.4M91 773.7L94.2 773.7M91 754.8L94.2 754.8M91 745.2L94.2 745.2M91 738.4L94.2 738.4M91 733.2L94.2 733.2M91 728.8L94.2 728.8M91 725.2L94.2 725.2M91 722L94.2 722M91 719.3L94.2 719.3M91 700.4L94.2 700.4M91 690.8L94.2 690.8M91 684L94.2 684M91 678.8L94.2 678.8M91 674.4L94.2 674.4M91 670.8L94.2 670.8M91 667.6L94.2 667.6M91 664.9L94.2 664.9M91 646L94.2 646M91 636.4L94.2 636.4M91 629.6L94.2 629.6M91 624.4L94.2 624.4M91 620L94.2 620M91 616.4L94.2 616.4M91 613.2L94.2 613.2M91 610.5L94.2 610.5M91 591.6L94.2 591.6M91 582L94.2 582M91 575.2L94.2 575.2" stroke="#000" stroke-width="1.3" fill="none"/>
<path d="M94.2 0V863.6M674.2 0V863.6M91.2 0.4H674.2M94.2 287.6H674.2M94.2 575.7H674.2M94.2 863.6H674.2" stroke="#000" stroke-width="1.3" fill="none"/>
<text x="84.1" y="292.7" font-size="18.5" text-anchor="end" >100</text>
<text x="84.1" y="186.4" font-size="18.5" text-anchor="end" >1000</text>
<text x="84.1" y="80.1" font-size="18.5" text-anchor="end" >10000</text>
<text x="84.1" y="580.8" font-size="18.5" text-anchor="end" >0.1</text>
<text x="84.1" y="500.9" font-size="18.5" text-anchor="end" >1</text>
<text x="84.1" y="421" font-size="18.5" text-anchor="end" >10</text>
<text x="84.1" y="341.1" font-size="18.5" text-anchor="end" >100</text>
<text x="84" y="834.4" font-size="24" text-anchor="end">10<tspan font-size="13" dy="-14">-1</tspan></text>
<text x="84" y="780" font-size="24" text-anchor="end">10<tspan font-size="13" dy="-14">0</tspan></text>
<text x="84" y="725.6" font-size="24" text-anchor="end">10<tspan font-size="13" dy="-14">1</tspan></text>
<text x="84" y="671.2" font-size="24" text-anchor="end">10<tspan font-size="13" dy="-14">2</tspan></text>
<text x="84" y="616.8" font-size="24" text-anchor="end">10<tspan font-size="13" dy="-14">3</tspan></text>
<text x="94.2" y="898.6" font-size="24" text-anchor="middle" >1</text>
<text x="317.2" y="898.6" font-size="24" text-anchor="middle" >10</text>
<text x="540.2" y="898.6" font-size="24" text-anchor="middle" >100</text>
<text x="361.2" y="925.7" font-size="24" text-anchor="start" >T(K)</text>
<text x="-0.6" y="15.5" font-size="29" text-anchor="start" >a</text>
<text x="-1" y="309.3" font-size="30" text-anchor="start" >b</text>
<text x="-1.2" y="592.3" font-size="30" text-anchor="start" >c</text>
<text transform="translate(17.5,138) rotate(-90)" font-size="23.8" text-anchor="middle">R (Ω)</text>
<text transform="translate(20,449) rotate(-90)" font-size="23.6" text-anchor="middle">ρ (m Ωcm)</text>
<text transform="translate(19.6,709.5) rotate(-90)" font-size="23.5" text-anchor="middle">ρ (mΩ cm)</text>
<rect x="109.5" y="9.5" width="231" height="129.7" fill="#fff" stroke="#777" stroke-width="1.1"/>
<line x1="126.3" y1="27.2" x2="168.1" y2="27.2" stroke="#555" stroke-width="1"/>
<rect x="141.5" y="21.5" width="11.5" height="11.5" fill="#000"/>
<text x="173.5" y="33.9" font-size="19">R<tspan font-size="11.5" dy="6.7">sq</tspan><tspan dy="-6.7"> in Graphene</tspan></text>
<text x="126.5" y="66.3" font-size="19">(n</text><text x="143.6" y="56.699999999999996" font-size="11.5">1/2</text><text x="142.8" y="73.7" font-size="11.5">2D</text><text x="158.4" y="66.3" font-size="19">= 3.5 10<tspan font-size="11.5" dy="-9">6</tspan><tspan dy="9">cm</tspan><tspan font-size="11.5" dy="-9">-1</tspan><tspan dy="9">)</tspan></text>
<circle cx="147.5" cy="89.5" r="6.1" fill="none" stroke="#3636c8" stroke-width="1.2"/>
<text x="168.3" y="96.1" font-size="19">R = ρ/λ<tspan font-size="11.5" dy="6.5">F</tspan><tspan dy="-6.5"> in SrTiO</tspan><tspan font-size="11.5" dy="6.5">3-δ</tspan></text>
<text x="126.5" y="128.8" font-size="19">(n</text><text x="143.6" y="119.20000000000002" font-size="11.5">1/3</text><text x="142.8" y="136.20000000000002" font-size="11.5">3D</text><text x="158.4" y="128.8" font-size="19">= 3.3 10<tspan font-size="11.5" dy="-9">6</tspan><tspan dy="9">cm</tspan><tspan font-size="11.5" dy="-9">-1</tspan><tspan dy="9">)</tspan></text>
<rect x="192.3" y="342.7" width="266.2" height="60.4" fill="#fff" stroke="#777" stroke-width="1.1"/>
<line x1="204" y1="359.9" x2="246" y2="359.9" stroke="#e77" stroke-width="1"/>
<circle cx="225" cy="359.9" r="6.2" fill="#fff" stroke="#e05a5a" stroke-width="1.2"/>
<circle cx="225" cy="386.5" r="6.2" fill="none" stroke="#3636d8" stroke-width="1.2"/>
<text x="250.8" y="367" font-size="18.6">Si: P (n=6.2 10<tspan font-size="11.5" dy="-9">18</tspan><tspan dy="9"> cm</tspan><tspan font-size="11.5" dy="-9">-3</tspan><tspan dy="9">)</tspan></text>
<text x="250.8" y="393.5" font-size="18.6">SrTiO<tspan font-size="11.5" dy="6.5">3-δ</tspan><tspan dy="-6.5">(n=5.4 10</tspan><tspan font-size="11.5" dy="-9">18</tspan><tspan dy="9"> cm</tspan><tspan font-size="11.5" dy="-9">-3</tspan><tspan dy="9">)</tspan></text>
<rect x="113.6" y="591.2" width="347.9" height="92.3" fill="#fff" stroke="#777" stroke-width="1.1"/>
<circle cx="149" cy="607.6" r="6.2" fill="none" stroke="#3636d8" stroke-width="1.2"/>
<circle cx="149" cy="640.6" r="6.2" fill="none" stroke="#f0903a" stroke-width="1.2"/>
<line x1="128" y1="667.2" x2="170.2" y2="667.2" stroke="#555" stroke-width="1"/>
<rect x="143.2" y="661.3" width="11.4" height="11.4" fill="#000"/>
<text x="175" y="614.2" font-size="18.7">SrTiO<tspan font-size="11.5" dy="6.5">3-δ</tspan><tspan dy="-6.5"> (n= 1.4 10</tspan><tspan font-size="11.5" dy="-9">18</tspan><tspan dy="9">cm</tspan><tspan font-size="11.5" dy="-9">-3</tspan><tspan dy="9">)</tspan></text>
<text x="175" y="647" font-size="18.7">PbTe<tspan x="246.5">(p= 1.1 10</tspan><tspan font-size="11.5" dy="-9">18</tspan><tspan dy="9">cm</tspan><tspan font-size="11.5" dy="-9">-3</tspan><tspan dy="9">)</tspan></text>
<text x="175" y="673.6" font-size="18.7">KTaO<tspan font-size="11.5" dy="6.5">3-δ</tspan><tspan x="250">(n=6 10</tspan><tspan font-size="11.5" dy="-9">17</tspan><tspan dy="9"> cm</tspan><tspan font-size="11.5" dy="-9">-3</tspan><tspan dy="9">)(Wemple)</tspan></text>
</svg>
</body></html>
